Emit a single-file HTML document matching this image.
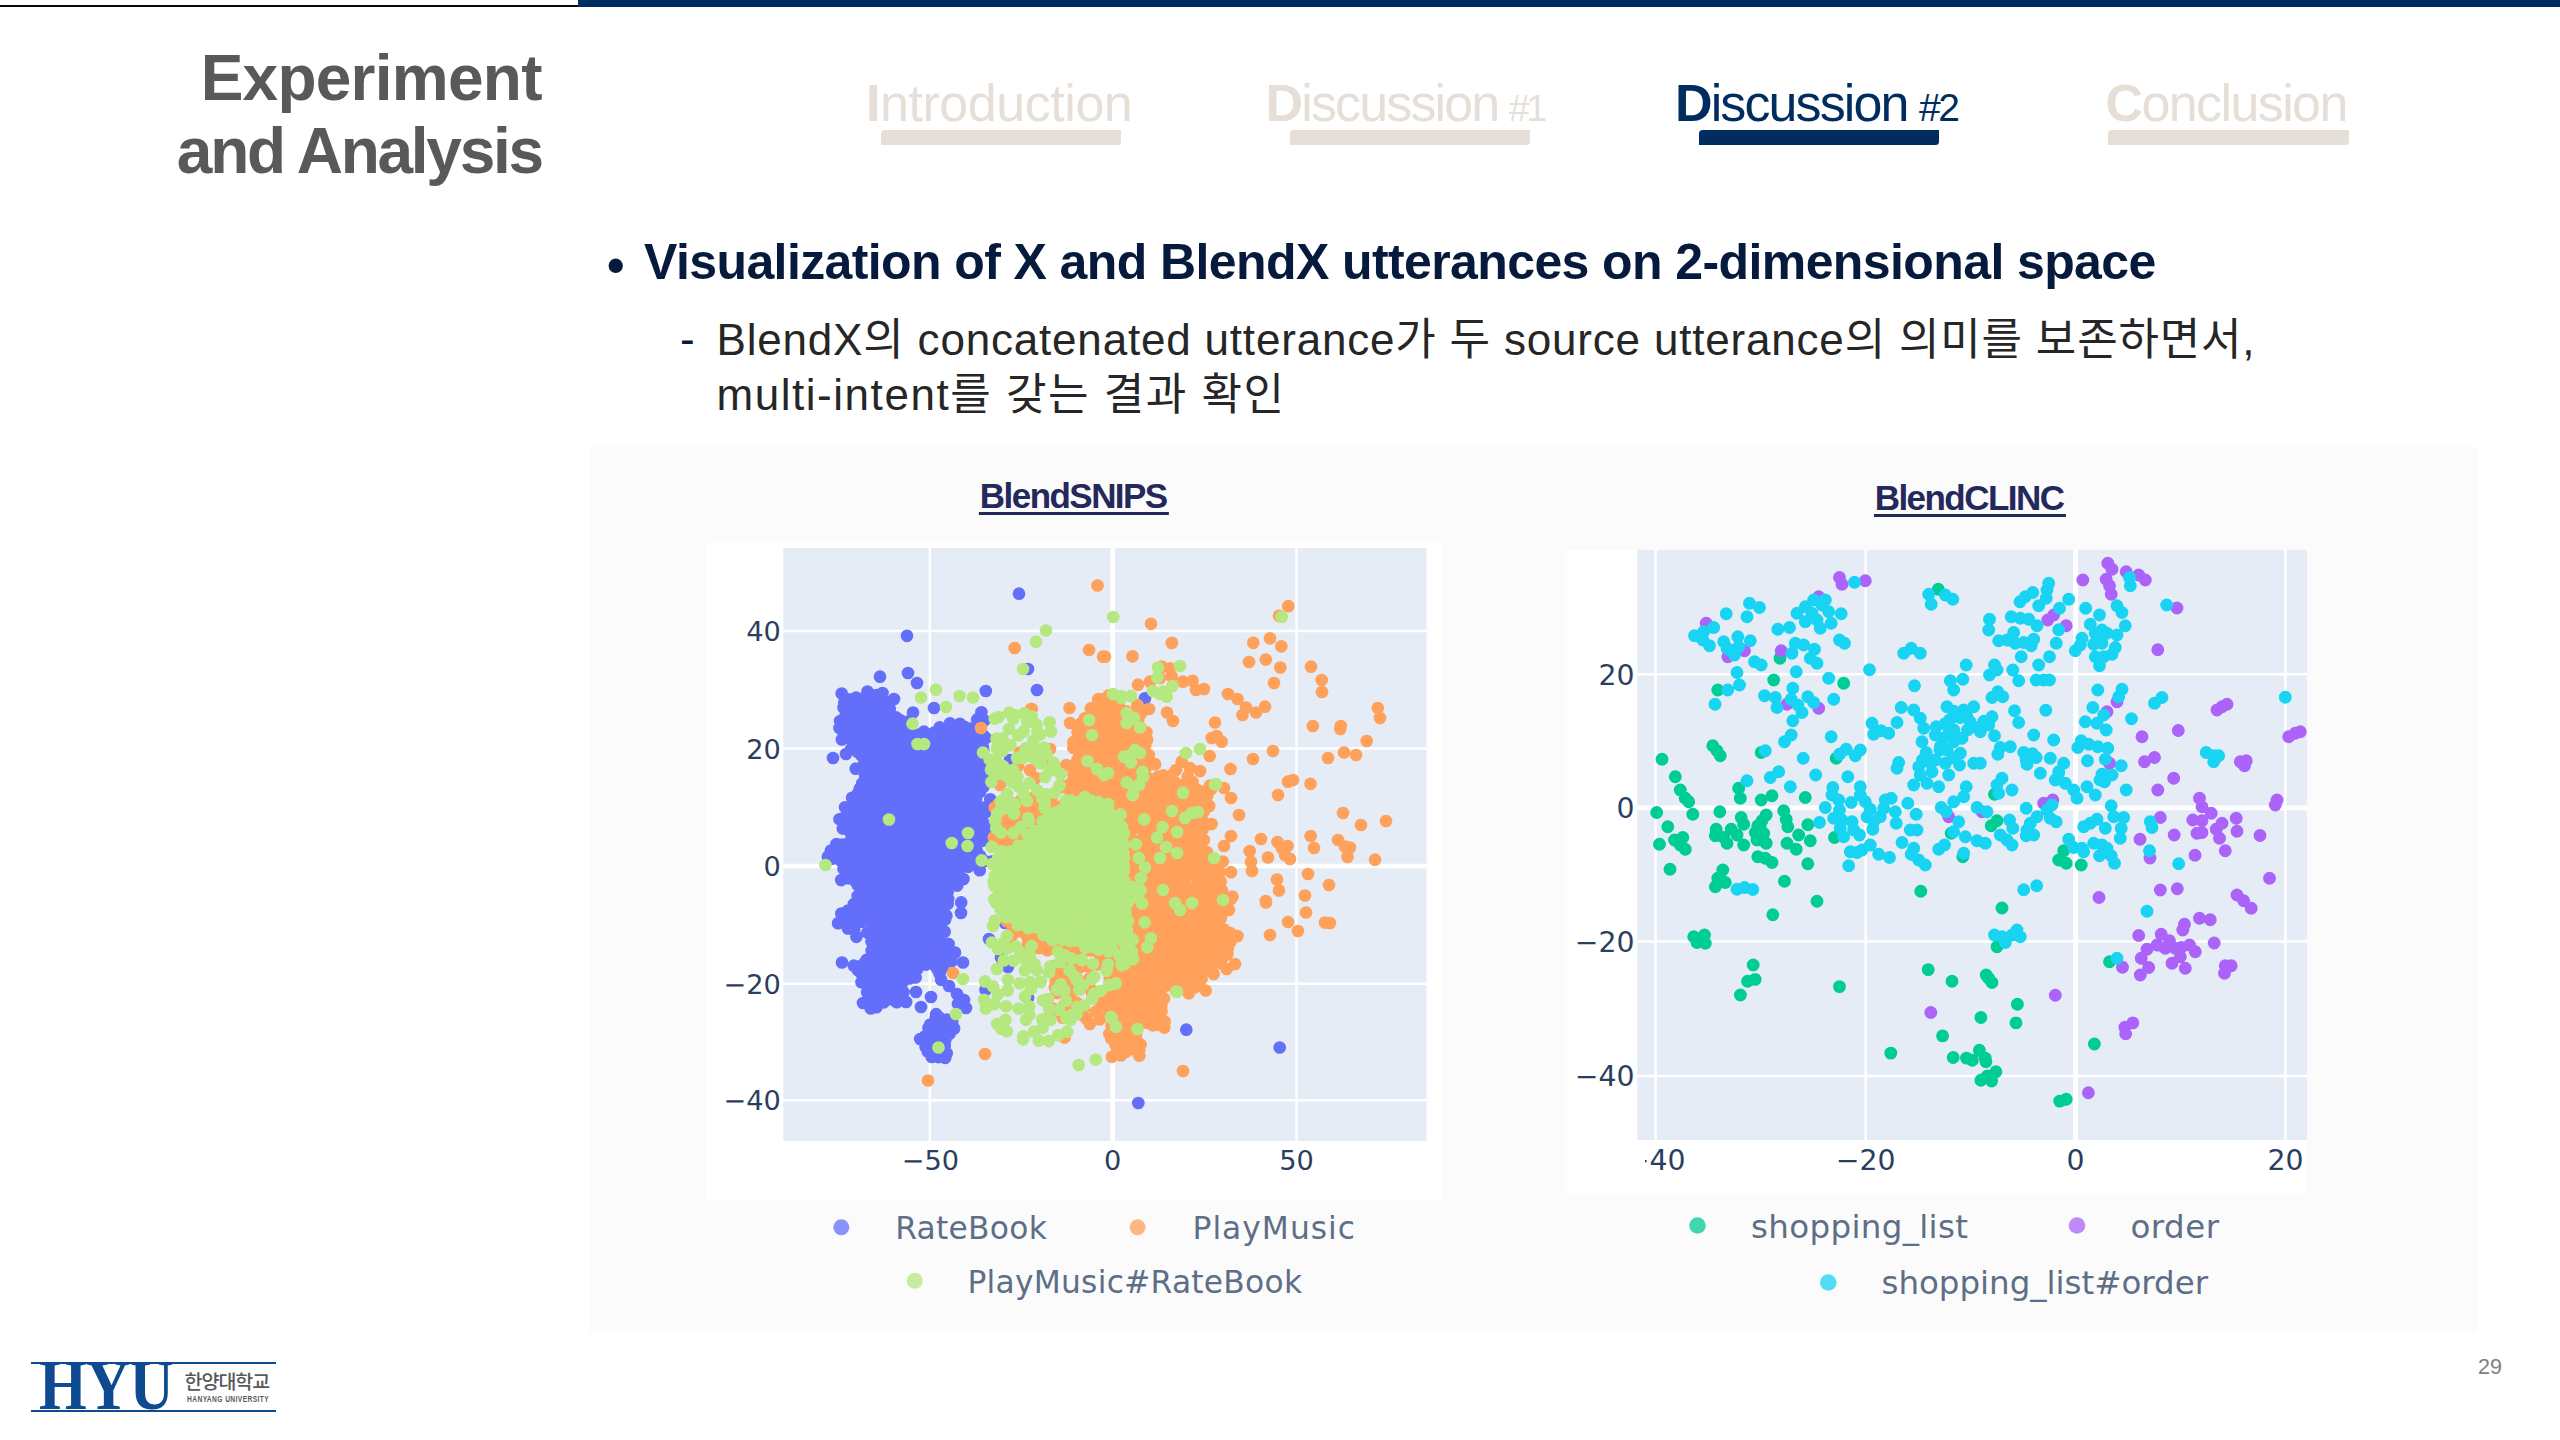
<!DOCTYPE html><html lang="ko"><head><meta charset="utf-8"><title>Experiment and Analysis</title><style>

*{margin:0;padding:0;box-sizing:border-box}
html,body{width:2560px;height:1440px;background:#fff;overflow:hidden}
body{position:relative;font-family:"Liberation Sans","Noto Sans CJK KR",sans-serif}
.abs{position:absolute;white-space:nowrap;line-height:1}
.topbar{left:578px;top:0;width:1982px;height:6.5px;background:#022d61}
.topline{left:0;top:4.8px;width:580px;height:1.8px;background:#000814}
.title{right:2018.3px;top:42.2px;text-align:right;font-weight:bold;font-size:64px;line-height:72.4px;color:#595959;white-space:nowrap}
.title .l1{letter-spacing:-0.75px}
.title .l2{letter-spacing:-2.3px}
.nav{top:76.5px;font-size:52px;color:#e6dfd8}
.nav b{font-weight:bold}
.nav .num{font-size:39px}
.nav.on{color:#002c5f}
.bar{height:14.7px;top:130px;width:240px;background:#e6dfd8;border-radius:3.5px 0 3.5px 0}
.bar.on{background:#002c5f}
.h1{left:607px;top:236.5px;font-weight:bold;font-size:50px;color:#051a3c;letter-spacing:-0.6px}
.h1 .dot{display:inline-block;width:37.1px;position:relative;top:3.5px;letter-spacing:0}
.sub{left:680px;top:311.5px;font-size:44px;color:#262626;letter-spacing:0.81px;line-height:55.6px}
.sub .dash{position:absolute;left:0;top:-0.5px;color:#051a3c;letter-spacing:0}
.sub .txt{margin-left:36.5px;white-space:nowrap}
.sub .t2{letter-spacing:1.54px}
.panel{left:590px;top:447px;width:1888px;height:885px;background:#fbfbfb}
.ct{font-weight:bold;font-size:35px;color:#24285b;letter-spacing:-1.55px;border-bottom:3px solid #24285b;padding:0 2.5px 0 1px;height:36.7px;line-height:35px;transform:translateX(-50%)}
.pg{left:2478px;top:1356.5px;font-size:21.5px;color:#808080}
.logo{left:31px;top:1362px;width:245px;height:50px;border-top:2.2px solid #0e4a8f;border-bottom:2.2px solid #0e4a8f}
.hyu{left:8px;top:-14.2px;font-family:"Liberation Serif",serif;font-weight:bold;font-size:71px;color:#0e4a8f;transform-origin:0 0;transform:scaleX(0.865);letter-spacing:-1px}
.kr{left:153.5px;top:8.5px;font-size:19.5px;color:#58595b;letter-spacing:-1px;font-weight:500}
.en{left:155.5px;top:31.1px;font-size:8.8px;font-weight:bold;color:#58595b;transform-origin:0 0;transform:scaleX(0.755);letter-spacing:0.55px}
svg{position:absolute;left:0;top:0}
svg text{font-family:"DejaVu Sans",sans-serif}

</style></head><body>
<div class="abs topline"></div><div class="abs topbar"></div>
<div class="abs title"><div class="l1">Experiment</div><div class="l2">and Analysis</div></div>
<div class="abs nav" style="left:866px;letter-spacing:-0.45px"><b>I</b>ntroduction</div><div class="abs bar" style="left:881px"></div>
<div class="abs nav" style="left:1265.5px;letter-spacing:-1.85px"><b>D</b>iscussion <span class="num" style="font-size:37.5px;letter-spacing:-3.4px;margin-left:-2.3px">#1</span></div><div class="abs bar" style="left:1290px"></div>
<div class="abs nav on" style="left:1675px;letter-spacing:-1.9px"><b>D</b>iscussion <span class="num" style="margin-left:-1px;letter-spacing:-2.4px">#2</span></div><div class="abs bar on" style="left:1699px"></div>
<div class="abs nav" style="left:2105.5px;letter-spacing:-1.6px"><b>C</b>onclusion</div><div class="abs bar" style="left:2108px;width:241px"></div>
<div class="abs h1"><span class="dot">&bull;</span>Visualization of X and BlendX utterances on 2-dimensional space</div>
<div class="abs sub"><span class="dash">-</span><div class="txt">BlendX의 concatenated utterance가 두 source utterance의 의미를 보존하면서,</div><div class="txt t2">multi-intent를 갖는 결과 확인</div></div>
<div class="abs panel"></div>
<div class="abs ct" style="left:1074px;top:478.2px">BlendSNIPS</div>
<div class="abs ct" style="left:1969.8px;top:480px">BlendCLINC</div>
<svg width="2560" height="1440" viewBox="0 0 2560 1440"><rect x="706" y="543" width="736" height="657" fill="#fff"/><rect x="783.3" y="548" width="643.2" height="593" fill="#e5ecf6"/><defs><clipPath id="cl"><rect x="783.3" y="548" width="643.2" height="593"/></clipPath><clipPath id="cr"><rect x="1637.3" y="550" width="669.7" height="590"/></clipPath></defs><g clip-path="url(#cl)" stroke="#fff" stroke-width="2.4" fill="none"><path d="M929.8 548V1141"/><path d="M1296.5 548V1141"/><path d="M783 631H1427"/><path d="M783 748.5H1427"/><path d="M783 983.8H1427"/><path d="M783 1100.3H1427"/><path d="M1112.7 548V1141" stroke-width="4.6"/><path d="M783 866H1427" stroke-width="4.6"/></g><g clip-path="url(#cl)" fill="none" stroke-linecap="round" stroke-width="12.7"><path stroke="#636efa" d="M867.5 691.5h0M849.3 699.4h0M856.1 697.7h0M860.8 699.1h0M871.9 698.6h0M876.5 695.1h0M844.3 702.5h0M853.9 703.3h0M858.6 701.8h0M868.9 704.9h0M875.1 704.4h0M880.6 702.5h0M885.1 702.1h0M843.5 707.5h0M851.4 710h0M856.2 707.4h0M865.4 710h0M872.2 708.9h0M878.6 707.8h0M883 708h0M889.8 708.8h0M845.5 715.4h0M852.3 715.5h0M861.7 716.3h0M868.7 714.1h0M875.7 717h0M878.6 715h0M886.2 713.2h0M895.9 717.3h0M840.1 721h0M850.6 720.2h0M858.1 721.7h0M860.9 719.2h0M869.6 719.2h0M877.7 722.9h0M885.8 719.2h0M890.8 720.6h0M900.1 720.2h0M977.2 719.4h0M981.7 721.3h0M839.5 728.1h0M844.7 725.2h0M850.4 728.6h0M857.8 725.4h0M868.4 728.3h0M872.2 726.4h0M878.8 727.2h0M889.8 729.8h0M893.2 729.8h0M900.8 724.9h0M908.4 727.4h0M958.3 728.5h0M963.9 726.6h0M969.7 728.6h0M976.2 729.1h0M844 734.4h0M847.6 731.2h0M855.3 731.5h0M863.3 734.1h0M870.9 733.4h0M878.5 734.7h0M884.2 734.3h0M892.2 732.3h0M896.8 734.6h0M906.2 735.9h0M911.4 733.4h0M920.3 734.1h0M923.9 731.7h0M934.2 732.5h0M945.8 734.4h0M954.9 732.5h0M960.8 733.3h0M970 732h0M977.2 731.1h0M983.6 735.8h0M852.5 741.5h0M858.2 741.5h0M864.1 737.1h0M873.3 738.6h0M879.7 738.6h0M885 740.8h0M892.6 741.7h0M903.5 738.5h0M908 742.1h0M914.8 739.2h0M920.2 737.6h0M928.4 741.7h0M935.3 739.6h0M942.9 741.8h0M952.1 740.2h0M959.7 739.8h0M962.2 740.7h0M972.8 740.3h0M976.2 741.7h0M856 744.2h0M865.5 745.4h0M868.5 743.6h0M875 744.3h0M884.3 747.6h0M890.6 745.2h0M897.4 744.8h0M903.9 748h0M912 746.3h0M917.6 744.5h0M925.5 745.3h0M934.7 747.5h0M937.7 746.7h0M946.9 746.1h0M953.5 747.8h0M962.8 748h0M966 743.9h0M975.9 747.8h0M982.7 746.9h0M857.4 751.8h0M865.9 750.3h0M871.1 750.7h0M882.8 752.4h0M887.4 750.4h0M896.8 752.7h0M899.1 751.7h0M908.1 750.5h0M917.6 750.3h0M921.7 751.3h0M928 753.2h0M936.5 750.2h0M942.6 753.3h0M949.1 753h0M959.8 751.7h0M963.1 751.3h0M973.7 749.9h0M977.1 754.1h0M983.3 749.5h0M861.3 755.3h0M869.3 760h0M879.3 756.3h0M885.6 759.4h0M888.7 757.6h0M900.1 756.2h0M907 755.4h0M913.6 759.1h0M916.7 755.6h0M924.8 759h0M932.2 756.6h0M940.6 756.6h0M946.1 756.6h0M955.3 759.8h0M963.2 755.4h0M967.9 760h0M974.4 756.5h0M982 759.9h0M864.2 764.1h0M875.9 765.7h0M879.3 761.7h0M887.5 764.9h0M893.2 763.4h0M902.4 765h0M909.3 761.9h0M914.5 764.1h0M923.7 762.3h0M928.2 762.1h0M936.9 762.9h0M946 763.8h0M952 764.6h0M955.5 763.7h0M966.2 765.9h0M970.5 761.9h0M980.9 764.2h0M984.9 765.6h0M870.9 768.3h0M875.5 771.3h0M881.8 767.9h0M891.3 770.6h0M896.3 770.8h0M903.9 768.9h0M911.1 770.2h0M918.6 771.7h0M925.3 768.4h0M931.5 767.4h0M939.6 771.5h0M948.9 769.7h0M951.6 770.1h0M963 767.8h0M967.4 769.9h0M973.9 770h0M980 769.8h0M865.1 775.5h0M875.1 774.3h0M880 776h0M885.6 774.7h0M896.5 773.6h0M902.8 773.6h0M906.6 776.4h0M916.1 775h0M922.9 775.6h0M929.2 775.6h0M937.1 775.9h0M944.8 777.3h0M948.9 775.8h0M955.6 775.6h0M964.2 776h0M972.2 773.8h0M979.9 776h0M985.5 775.3h0M862.3 783.3h0M872 780.9h0M875.2 782h0M882.5 780.8h0M890.1 779.7h0M896.3 784.2h0M907 780.3h0M910.1 782.1h0M918.3 783.9h0M926.4 783.9h0M935.5 782.6h0M941.5 780.8h0M947.4 781.3h0M953.7 780.4h0M958.7 783.6h0M968.7 784.4h0M975.8 781.1h0M979.7 780.2h0M859.9 788.5h0M867.1 787.9h0M875.7 786.8h0M878.5 788.7h0M888.9 787.6h0M892.1 788.8h0M900.8 788.8h0M910.7 789.2h0M917.5 785.8h0M922 786.7h0M930.9 785.6h0M938.7 786.3h0M944 788.1h0M952.1 786.4h0M956.5 785.8h0M965.9 789.1h0M973.2 789.3h0M979.7 787.8h0M983.5 786.7h0M858.3 792.7h0M860.6 792.9h0M871.2 796.3h0M876.1 796h0M882.7 796.2h0M892 794.9h0M897.8 795.8h0M906.8 793.8h0M912.4 793.2h0M919.6 792h0M924.2 791.8h0M935.1 793.3h0M937.6 791.8h0M947.7 795.1h0M951.8 794.6h0M962.6 795.7h0M965.8 796h0M977.2 792.2h0M980.1 791.8h0M852.1 797.8h0M858.4 801.3h0M865.6 802.5h0M875.3 800.8h0M880.1 799.9h0M886.7 801.2h0M893.1 802h0M903.1 798.5h0M907 801.5h0M913 800.1h0M924 798.6h0M928.7 801.8h0M938.7 799.1h0M944.5 800.2h0M951.2 798.1h0M958.5 801.6h0M963.8 799.7h0M973.5 798.1h0M976.1 798.7h0M847.3 808h0M857.2 804.6h0M864.4 806.6h0M869.8 808.2h0M875.5 805.2h0M885.7 804.5h0M889.7 805.4h0M896.3 805.4h0M907.4 807.4h0M914.3 804.2h0M921.4 807.7h0M925.7 804.7h0M931 804.8h0M937.7 805.7h0M948 806.2h0M953.8 804.4h0M960.5 807.4h0M967.7 806.6h0M974.6 804.9h0M983.9 807.6h0M846.9 813.4h0M851.3 811.9h0M860.1 811.8h0M868.7 810.7h0M874.9 811.7h0M882.9 810h0M885.8 813.7h0M894.6 810.3h0M901.7 813.4h0M909.2 813.9h0M915.1 814.5h0M923.4 811.8h0M927.6 814.7h0M934.3 811.2h0M941.1 811.9h0M951.5 811.6h0M956.1 813.5h0M964.6 810.9h0M971 810.9h0M979.9 813.8h0M985.3 812.6h0M848.3 820.1h0M855.4 817.1h0M861.4 815.9h0M868.9 817.1h0M876.9 818h0M884.8 817.7h0M892.8 816.1h0M900 819.8h0M906.7 819h0M909.6 820.6h0M917.8 816.4h0M924.7 819.7h0M931.3 820.4h0M938.3 820.3h0M948.4 819.2h0M955.4 820.1h0M962 818.5h0M967.7 820.3h0M973.8 817h0M982 816.2h0M845.8 825.3h0M851.9 824h0M857.4 825.1h0M864.1 825h0M875.7 823.6h0M880.6 824.3h0M885.2 825.5h0M893.7 826.2h0M901.4 824.6h0M907.1 824.1h0M915.8 826.1h0M924.1 823.9h0M928.4 824.5h0M937.3 825.9h0M942.6 823.4h0M951.2 825.8h0M958.6 826.4h0M962.2 823.4h0M969.9 826.5h0M979.3 825.9h0M986.1 825h0M850.4 832.6h0M855.3 832.1h0M863.3 829.3h0M869.6 829.6h0M877.7 832.7h0M884.3 828.2h0M892.6 830.9h0M897.7 828.1h0M905.5 832.7h0M911.9 830.1h0M919.7 829h0M923.6 828h0M931.1 832.8h0M941.8 828.6h0M948.1 829.2h0M952.4 828.2h0M962.1 832.3h0M965.9 831.1h0M974.8 832.6h0M984.3 831.6h0M986.6 831.2h0M852.9 836.2h0M857.7 838h0M867.2 837.2h0M872.9 838h0M881.9 836.9h0M885.3 838.9h0M896.1 835.7h0M903.9 838.2h0M907.5 836.2h0M914.9 837.5h0M924.5 838.1h0M927 835.4h0M936.9 838.1h0M941.2 838.2h0M952.3 836.9h0M959.3 838.1h0M966.6 835.8h0M971.8 838h0M979.8 838.7h0M986 837.4h0M836.5 844h0M842.4 844.6h0M849.1 842.5h0M854.4 841.1h0M864 841.9h0M869.5 842.7h0M874.7 845.1h0M882 843.3h0M889.3 843.1h0M898.1 840.2h0M907.5 844.4h0M912.3 841.4h0M918.6 844.8h0M927.6 844.9h0M930.7 841.1h0M937.9 840.4h0M948.9 842.4h0M956 840.4h0M960.5 840.7h0M966.8 842.9h0M977.3 843.5h0M981.7 840.9h0M830.8 850.7h0M840.2 846.4h0M846.5 849.4h0M850.3 846.9h0M861.7 849.6h0M867 850h0M872.6 847.5h0M880.4 847h0M885.7 849.6h0M895.6 847.1h0M903.6 847.3h0M910.3 850.6h0M915.2 846.7h0M924.2 849.3h0M928.7 850.3h0M937.1 846.9h0M941.3 849.7h0M948.7 850.5h0M957.1 847h0M966.2 847.8h0M971.5 847.8h0M976.6 851.1h0M837.5 857.2h0M840 853.7h0M846.8 855.9h0M858.4 852.3h0M862.2 852.9h0M871.7 854.9h0M876.7 856.8h0M884.4 852.9h0M892.4 855.8h0M895.9 852.7h0M905 853.6h0M912.6 855.8h0M919.4 853.2h0M927.2 854.3h0M930.8 856.3h0M941.7 856.6h0M944.6 856.8h0M955.9 853.6h0M962.7 854.1h0M967.4 855.2h0M975.1 854.5h0M980.1 855.8h0M832.8 858.6h0M840.8 860.8h0M845.7 861h0M854.8 859.4h0M857.5 859.6h0M864.2 858.8h0M872 858.4h0M880.9 860.9h0M885.5 862.6h0M892.2 858.9h0M901.5 859.7h0M908 859h0M917.3 859h0M923.7 859.1h0M931.7 860.2h0M938.2 860.9h0M945.7 862.2h0M949.2 860h0M959.9 862.3h0M966.1 862.5h0M971.6 863.1h0M977.2 860.4h0M984.8 861h0M843.5 868.8h0M846.7 867.6h0M856.9 865.7h0M865.1 867.5h0M870.1 866.5h0M875.9 865.9h0M882.1 867.3h0M891.1 865.7h0M898.2 865.1h0M903.2 865.8h0M910.9 865.6h0M919.2 868.6h0M926.4 867.6h0M934.1 866.7h0M940.6 866.7h0M945.7 865.5h0M953.4 867.3h0M960.3 868.7h0M968.3 866.8h0M853.7 871.2h0M858.8 873.8h0M868.2 874.5h0M874.7 874.1h0M880.4 874.3h0M889.6 871.1h0M892 874.3h0M901.5 875.2h0M908.1 874.3h0M916 872.3h0M922.3 874h0M929 873.2h0M935.6 874.4h0M943.5 872.6h0M949.5 871.1h0M957.9 870.9h0M848.4 878.3h0M855.3 881.2h0M863.1 877h0M869.5 879.3h0M878.9 881.3h0M883.7 879.6h0M890.2 879.1h0M896.4 878.1h0M906.6 879h0M914 879.9h0M921.5 880.9h0M924.3 877.9h0M933 877.4h0M940.7 879.5h0M949.5 879.7h0M953.6 880.4h0M857.9 885.2h0M867.1 886.6h0M871.1 886.4h0M881.6 884.3h0M886.3 883h0M894.9 884.3h0M900.9 882.8h0M908.9 887.3h0M916.1 883.8h0M924.7 886.8h0M931.5 886.6h0M937 887.3h0M945.7 883.8h0M951.6 883.7h0M862.2 889.4h0M868 890h0M875.1 890.8h0M885.5 889.4h0M892.1 890.5h0M896.5 893.4h0M903.6 890.9h0M913 889.9h0M919.4 890.4h0M926.5 889.7h0M931.1 891.2h0M938.9 892.5h0M947.8 891.4h0M857.7 896.1h0M867.4 898h0M873.1 898h0M879.2 898.9h0M888.1 895.6h0M896.6 898.3h0M899.2 894.9h0M907 896.2h0M913.2 896.2h0M920.9 898.9h0M930.6 895.9h0M937.4 896.4h0M945.2 898.6h0M948.2 898.9h0M853.8 904.2h0M863.1 905.4h0M871.3 901h0M878.5 902h0M886.3 903.9h0M889.7 901h0M897.6 901.7h0M903.2 904.3h0M910.7 901.9h0M918.7 905.4h0M925 905.2h0M933.3 902.4h0M940.2 904.5h0M947.8 903.7h0M848 910.5h0M853.6 911.7h0M857.5 909.2h0M864.9 909.5h0M875.6 910h0M882.7 910.1h0M886.2 907.5h0M895.9 911h0M899.9 910h0M910.6 907.6h0M917.2 910.5h0M920.9 910.9h0M928.8 909.5h0M938.2 908h0M943.8 909.9h0M843.8 916.8h0M847.9 916.2h0M855.6 914.5h0M863.8 917h0M868.3 914.3h0M877.3 914.6h0M881.9 914.5h0M893.4 917.4h0M900.4 917.7h0M906.6 913.2h0M912.5 914.3h0M921.3 915.3h0M925 914.6h0M930.6 913.8h0M939.7 913.3h0M946.4 915.8h0M845.6 921.9h0M852 919.3h0M861.3 921.7h0M867.8 919.5h0M874.6 919.4h0M880 919.8h0M887.8 922.8h0M895.9 919.2h0M900.9 919h0M907.1 920.4h0M915.1 923.4h0M924.4 921.7h0M931.4 919.8h0M935.7 922.7h0M945.1 919.5h0M848 928.4h0M854.2 929.4h0M872.2 925h0M875.3 927.5h0M885.5 925.2h0M892.6 928.4h0M897.9 925.8h0M904.5 929.3h0M909.9 926.6h0M921 927.9h0M924.3 926.8h0M933.4 926.9h0M937.5 927.9h0M867.4 932.6h0M874.7 933.6h0M879.8 933.8h0M885.3 932.7h0M896.9 933.4h0M900.2 932.2h0M906.7 931.1h0M915.3 933.3h0M921.5 931.9h0M928.5 932.6h0M936.8 935.7h0M871.5 941.5h0M875.2 938h0M885.9 940.3h0M889.6 938.7h0M898.7 939.1h0M904.2 937.4h0M909.7 940.2h0M919 940.1h0M925.8 937.2h0M933.3 942h0M940.6 940.7h0M874.3 947h0M882.9 944.3h0M885.4 943.3h0M892.3 945.7h0M899.9 947.9h0M906.7 944.1h0M917.6 944h0M923.9 944.4h0M929.5 946.3h0M938 945.5h0M871.6 950.6h0M876.9 953.7h0M884.9 952.2h0M891.4 953.6h0M899.9 951h0M906.8 950.1h0M914.5 950.7h0M917.1 954.1h0M928.1 950h0M931 950.1h0M938 950.9h0M948.1 953.6h0M866.5 959.9h0M872.1 960.1h0M881.7 956.7h0M886.3 955.6h0M894.5 957.3h0M900.8 955.3h0M909.3 958h0M916.5 960.2h0M923.6 957.3h0M929.1 960.2h0M935.9 957.3h0M946 955.3h0M862.4 964.9h0M870.1 964.4h0M876.1 964.5h0M882.6 964.4h0M893 963.7h0M898.1 963.7h0M903.2 966h0M912.1 964h0M917.7 962.2h0M925.8 964.6h0M935 965.7h0M939.4 965.5h0M945.1 962.1h0M858 970.3h0M864.9 971h0M872.6 968.6h0M878.5 970.6h0M886 969.5h0M895.1 969.3h0M901.2 969.2h0M907.5 969.5h0M917.1 969.2h0M937.6 969.3h0M942.6 967.8h0M861.6 973.9h0M868 973.9h0M877.3 973.8h0M885.1 975.9h0M892 975.6h0M900.5 977.6h0M903.2 975.1h0M909.5 978.4h0M939.6 973.7h0M868 982.5h0M875.7 981.8h0M878.3 981.7h0M885.2 983.9h0M895 980.4h0M901.8 983.5h0M868 987.9h0M876.6 989h0M885.6 986.2h0M893.5 990.3h0M897 987.3h0M867.2 992.3h0M872.8 993.5h0M878.8 992.5h0M886.7 995.9h0M894.4 992.4h0M903.4 992.2h0M867.7 1000.8h0M878.6 999.4h0M883.8 1002.3h0M893.2 999.8h0M895.9 998.9h0M936.1 1014.2h0M935.8 1018.1h0M939.5 1017.7h0M947.2 1019.7h0M930.2 1024.5h0M936.8 1024h0M945.4 1023.9h0M952.2 1022.1h0M928.5 1027.7h0M932.5 1031.3h0M939.1 1029.9h0M945.2 1029.1h0M954.1 1028.6h0M924.8 1036.4h0M930.3 1037h0M938 1034.3h0M944.1 1036.4h0M949.6 1033.7h0M920.2 1039h0M927 1042.6h0M932.7 1040h0M939.3 1040.1h0M945.4 1039.8h0M925.6 1047h0M930 1045h0M937.1 1046.6h0M944.8 1045.5h0M927.8 1051.4h0M933.1 1051h0M940.7 1053h0M946.7 1053.3h0M931.7 1057h0M938.5 1057.1h0M945.2 1057.8h0M949 986h0M957 994h0M964 1000h0M966 1008h0M958 1004h0M908.1 721.7h0M939.7 727.4h0M950 723.3h0M959.9 723.8h0M981.4 712.3h0M984.3 720.5h0M985.8 738h0M990.6 772.9h0M990.3 799.3h0M992.7 831.5h0M991.6 840.9h0M979.7 870.2h0M963.5 879.1h0M957.2 885.6h0M961.2 902.4h0M944.7 931.7h0M948.6 944.1h0M951.5 961.3h0M941.1 979.7h0M915.6 977.5h0M906.1 1001.9h0M896.8 1002.2h0M876.4 1007.2h0M870.8 1008.5h0M863 1003h0M861.5 982.2h0M853.8 965.7h0M856.4 936.8h0M838.1 923.2h0M841.3 913.5h0M841.2 880.1h0M827.9 856.8h0M842.8 828.4h0M839.5 819.3h0M845.1 807.3h0M855.7 768.7h0M851.2 748.9h0M841.9 739.5h0M841.7 693.6h0M921 1007h0M931 997h0M903 992h0M916 992h0M842 962.5h0M1019 593.7h0M907 635.8h0M908 673h0M917 683h0M880 676.7h0M985.8 691h0M1037 690h0M1028 669h0M934 708h0M913 712.5h0M894 699h0M882.5 693h0M1145 698.3h0M833 758h0M846 754h0M961 913h0M989 939h0M1005 923h0M1001 957.5h0M1008 967h0M985.5 990h0M1028 998h0M963 962.5h0M955 952.5h0M1186.3 1029.7h0M1279.7 1047.5h0M1138.3 1103h0M1010 760h0M1040 815h0M1075 870h0M991.7 861.7h0"/><path stroke="#ffa15a" d="M1101.8 699.4h0M1113 700.1h0M1098.7 706.6h0M1106.5 705.6h0M1114.7 705.3h0M1119 706.5h0M1090.8 708.4h0M1098.9 711.5h0M1101.4 708.3h0M1111 710.3h0M1117 710.7h0M1126.6 711.3h0M1084.9 718.3h0M1091.8 717.3h0M1098.4 715.9h0M1108 717.5h0M1112.7 715h0M1122 714.8h0M1130.3 717h0M1135.8 716.7h0M1080.7 723.7h0M1088.8 722.4h0M1095.2 723.8h0M1102.9 723.6h0M1109 720.9h0M1116.8 723h0M1126.3 720.1h0M1133.2 721h0M1138.2 720.4h0M1079 728.9h0M1084.2 729.9h0M1094.2 730.2h0M1102 726.8h0M1107.5 730.4h0M1112.6 726.1h0M1119.2 726.8h0M1128.4 730.6h0M1135.9 725.9h0M1140.7 728.3h0M1077.6 732.5h0M1081.4 733.4h0M1091.4 734h0M1098.2 736h0M1103.6 732.5h0M1111.3 734.9h0M1119.5 736.7h0M1122.4 736.4h0M1129.9 735.4h0M1137.2 733.8h0M1146.4 732.3h0M1073.3 742.2h0M1079.7 741.5h0M1084.5 741.8h0M1091.8 742.1h0M1101.7 742.4h0M1105.5 738.1h0M1115.1 739.4h0M1118.5 738.9h0M1125.5 739.1h0M1136.1 742.9h0M1140.1 742.7h0M1147.2 739.7h0M1073.2 747.7h0M1081.5 747.3h0M1090.1 748.6h0M1095.6 747.4h0M1101.8 745.2h0M1112.1 747.6h0M1119 745.6h0M1125.6 744.3h0M1129.4 744.3h0M1136.8 748.7h0M1145.3 745h0M1079.2 754.3h0M1084.4 753.9h0M1092.2 750.7h0M1102.4 750.7h0M1108.2 754.6h0M1113.9 754.9h0M1119.9 752.4h0M1129.2 750.8h0M1137.3 750.7h0M1141.2 751.4h0M1148.8 755.1h0M1077.2 760.4h0M1080.7 760.9h0M1090.4 759.4h0M1098.4 758.9h0M1102.7 760.1h0M1112.3 757.3h0M1116.2 756.7h0M1122.1 760.2h0M1129.4 756.5h0M1137 758.5h0M1147 761h0M1079.2 764.7h0M1084.2 767h0M1093.3 766.2h0M1102.1 765h0M1108.8 764.1h0M1112.5 762.4h0M1123 766.7h0M1128.1 766.9h0M1133.2 765.4h0M1141.6 765.3h0M1147.9 764.3h0M1073.9 770.7h0M1084.9 770.7h0M1089.4 769.3h0M1094.7 769.2h0M1104.5 773.1h0M1109.8 770.4h0M1118.5 770.3h0M1126.3 771.2h0M1133.2 771.9h0M1139.1 772.9h0M1145.2 769.8h0M1073.5 775.1h0M1076.8 775.7h0M1087.1 778.9h0M1093.3 779h0M1102.1 776.5h0M1108.2 778.7h0M1112 778.7h0M1121.5 779.3h0M1125.8 775h0M1136 777.5h0M1140.3 775.3h0M1149.9 779.2h0M1158.4 776.5h0M1061 785.2h0M1070.6 783.5h0M1074.9 781.8h0M1084 784.4h0M1092 783.9h0M1097.8 781.7h0M1101.8 784.7h0M1109.4 785h0M1119.7 784.2h0M1125.8 783.3h0M1131.9 782.6h0M1136.4 784.3h0M1144.4 781h0M1152.2 784.1h0M1160.7 783.7h0M1166.5 784h0M1174.3 781.8h0M1182.6 785.1h0M1187.1 783.3h0M1060.2 787.4h0M1066.6 787.1h0M1072 788.2h0M1081.1 788.9h0M1084.8 791.1h0M1095 789.6h0M1101.4 789.6h0M1108.8 788.7h0M1116.1 790.5h0M1122.2 787.7h0M1129.6 791.3h0M1133.3 789.9h0M1141.5 787.3h0M1148.9 789h0M1155.3 789.3h0M1163.4 787.3h0M1169.3 791.3h0M1175.2 789.4h0M1183.4 789.2h0M1188.6 787.5h0M1196.9 789.6h0M1207.2 789.9h0M1024.6 796.7h0M1034.4 797.2h0M1070.5 795.5h0M1073.1 793.6h0M1084.2 793.1h0M1088.3 797h0M1095.6 797.4h0M1104.5 792.9h0M1112.9 793.1h0M1116.4 793.3h0M1125.3 797.3h0M1134 795.7h0M1136.8 796.2h0M1144.8 797.1h0M1150.7 793.3h0M1159.9 796.6h0M1166.5 795.4h0M1173.1 795.3h0M1178.3 794.7h0M1188.8 793.8h0M1193.2 793h0M1200.9 794.2h0M1207.1 795.9h0M1016.1 803.3h0M1021.3 800.1h0M1032 802.1h0M1035.3 798.8h0M1045.7 801.9h0M1051.6 798.9h0M1066.1 801.2h0M1072.8 800.8h0M1077 803.1h0M1084.6 800.6h0M1090.9 802.1h0M1099.2 799.9h0M1105.6 800.6h0M1113.7 799.4h0M1121.2 803.6h0M1126 801.1h0M1133.5 802h0M1143.5 800.1h0M1150.6 801h0M1155.9 799.3h0M1164 801.5h0M1167.7 802.2h0M1175.1 800.2h0M1184.4 802.2h0M1192 800.4h0M1196.9 803.5h0M1202.5 799.1h0M1004.8 809.1h0M1011.6 809.2h0M1021.3 807.6h0M1027.2 809.4h0M1032 807.3h0M1039.7 806.5h0M1047.9 805.8h0M1054.5 807.2h0M1062.3 805.6h0M1067.4 808.5h0M1076.9 807.3h0M1084.6 807.2h0M1088.5 806.7h0M1098.1 807.1h0M1102.1 806.9h0M1109.5 806.5h0M1118.7 805.7h0M1125.9 808h0M1132.2 808.1h0M1136.3 806.5h0M1147.8 807.3h0M1154.8 808.7h0M1158.7 805.2h0M1167.7 807.1h0M1172.3 807.1h0M1182.5 808.9h0M1187.2 806.8h0M1196.9 805.6h0M1200.4 809.3h0M1001.5 813.7h0M1006.6 812.7h0M1013.6 812.6h0M1022.2 814.1h0M1028.4 810.8h0M1037.6 812.2h0M1045.8 815.3h0M1051.4 813.6h0M1055.7 812.4h0M1065.5 813.3h0M1070.6 812.3h0M1078.3 815.3h0M1088.4 811.9h0M1091.7 813.7h0M1097.7 814.7h0M1105.8 814.6h0M1116.4 811h0M1119.6 813.9h0M1129.7 813.5h0M1136.5 811.3h0M1143.3 812.9h0M1147 813h0M1153.5 811.2h0M1162.3 812.9h0M1168.9 814.2h0M1179.4 811.6h0M1184 812.6h0M1189.5 815.1h0M1197.2 813.8h0M1203.9 811.2h0M1004.8 818.8h0M1013.3 820.1h0M1019 818h0M1026.3 821h0M1034.7 816.9h0M1042.8 820.2h0M1047.5 819.2h0M1052.9 820h0M1060.3 820h0M1069.1 817.7h0M1074.6 819.6h0M1082.4 819.9h0M1088.5 820.2h0M1097.1 820.7h0M1102.1 819h0M1110.8 820.6h0M1117.2 821.7h0M1125.3 817.3h0M1129.2 821.5h0M1139.6 818.1h0M1143.9 820.9h0M1150.1 821.3h0M1161.2 820.2h0M1168.3 817.8h0M1172.7 816.9h0M1178.3 817.2h0M1185.6 817.6h0M1193.4 821.4h0M1203.4 821.8h0M1003.8 823.6h0M1008.8 826.8h0M1014.5 827.6h0M1024.2 827h0M1031 824.8h0M1035.6 827.6h0M1044 825.4h0M1052.3 826.6h0M1057.3 823.9h0M1066.2 826.2h0M1072.1 823.6h0M1078.9 825.4h0M1084.5 826.5h0M1094.6 823.3h0M1100.7 825.3h0M1107.4 824h0M1111.5 826.9h0M1122.7 825.6h0M1128.6 823.5h0M1134 827.2h0M1142.9 826.9h0M1149.9 827.6h0M1154 824.9h0M1161.2 824h0M1169.4 823.6h0M1177.4 823.8h0M1184.2 825.1h0M1192.7 822.9h0M1196.5 823.1h0M1006.2 832.4h0M1012.8 832.6h0M1021.2 833.3h0M1025.2 829.3h0M1031.4 831.4h0M1039.5 831.2h0M1048.9 832.5h0M1053.1 829h0M1059.5 832.4h0M1071 830h0M1076.8 831h0M1082 830.5h0M1091.7 831.5h0M1096.2 832.8h0M1103.4 829.8h0M1112.5 831h0M1117.8 831.2h0M1123.2 831.7h0M1129.4 830.8h0M1140.9 829h0M1146.2 833.1h0M1150.7 830.4h0M1160.6 829.9h0M1167.3 832.2h0M1173.2 830.6h0M1179.7 829.6h0M1186.4 832.9h0M1194.7 833h0M1202.7 829.3h0M1004.3 836.9h0M1007.6 839.8h0M1016.7 839.2h0M1024.3 836.4h0M1027.7 837.2h0M1035.5 837.2h0M1042.9 835.8h0M1050.6 839.7h0M1056.7 837.8h0M1062.7 837.2h0M1071 837.9h0M1076.8 839.6h0M1085 838.6h0M1092.4 835.6h0M1097.6 835.7h0M1104.9 835.4h0M1114.1 835.7h0M1120.6 836.2h0M1129.7 835.2h0M1133 839.7h0M1142.5 839.3h0M1146.8 838.5h0M1157.1 836.4h0M1161.4 837.2h0M1170.4 836.5h0M1177.7 835.4h0M1184 836.1h0M1191 837.5h0M1197.4 837h0M1203.9 839.9h0M1003.4 845.4h0M1011.3 844.1h0M1019.3 844.6h0M1027.3 841.6h0M1034.2 844.5h0M1039 845.9h0M1047.1 842.9h0M1055.7 844.3h0M1061.8 843.6h0M1070.7 845.9h0M1078 843.4h0M1081.2 844.8h0M1091.7 845.2h0M1095.3 845h0M1102.6 842.9h0M1112.2 845.3h0M1115.9 841.8h0M1123.1 842.7h0M1129.8 844.6h0M1140.2 842.7h0M1144.5 842.4h0M1150.1 843.2h0M1157.1 845.4h0M1164 845.9h0M1172.3 841.2h0M1181.5 844h0M1186.2 842.5h0M1193.9 846h0M1199.6 845.3h0M1003 850h0M1009.6 850.1h0M1017.6 849.9h0M1025.1 849h0M1029.2 850.6h0M1037.7 850.4h0M1045.4 849.3h0M1052.3 848.7h0M1058.6 851.2h0M1065.9 851.6h0M1070.2 849.6h0M1081.2 852.1h0M1087.5 850.3h0M1095.4 848h0M1099.8 847.2h0M1106.6 851.9h0M1115.7 851h0M1119.7 848.6h0M1127.5 850.3h0M1134.1 850.1h0M1140.5 848.8h0M1147 847.4h0M1157.7 850.6h0M1164.7 850h0M1167.6 849h0M1177.6 847.4h0M1183.4 849.6h0M1189 850.8h0M1198.5 847.7h0M1206.9 852h0M1004.5 857h0M1011.7 855.9h0M1019.8 857.7h0M1029 853.3h0M1033.8 856.8h0M1041.1 855.6h0M1047.7 856.7h0M1052.1 854.8h0M1059.3 857.1h0M1069.2 857.2h0M1074.9 854.3h0M1082.6 856.2h0M1089.9 857.9h0M1098.8 854.4h0M1102.9 854.9h0M1108.9 856h0M1119.7 853.3h0M1124.5 857.9h0M1133.2 855.2h0M1140.6 853.5h0M1143.8 853.8h0M1153.5 856.1h0M1161 855.7h0M1168.1 857.3h0M1175.7 857.2h0M1178 857.5h0M1185.5 857h0M1195.2 857.3h0M1200.6 857.3h0M1207.6 856.6h0M1009.9 859.8h0M1017.3 860.8h0M1021.9 863.1h0M1031.6 860h0M1036.2 863.6h0M1041.9 863h0M1051.8 859.7h0M1058.8 863.6h0M1064.7 859.4h0M1070.7 863.2h0M1080.4 861.9h0M1084.1 861.2h0M1091.9 862.9h0M1099.1 860.6h0M1107.7 861.6h0M1116.1 863.9h0M1121.3 863.5h0M1126.8 859.8h0M1136.3 860h0M1144.5 861.6h0M1150.7 863.7h0M1154.1 862.4h0M1165.1 862.5h0M1170.1 860.7h0M1176.8 863.8h0M1186.1 861.6h0M1189.2 863.8h0M1199.9 861.3h0M1202.6 863.5h0M1211.4 863.4h0M1004.1 867.2h0M1012.9 869.7h0M1020.2 867.1h0M1024.3 867.9h0M1033.2 870.2h0M1039.8 867.4h0M1049.7 868.3h0M1054.1 866.5h0M1061.5 867.5h0M1068.8 866.3h0M1073.8 867h0M1084.4 866.5h0M1089.2 868h0M1094.2 865.6h0M1104.4 867.2h0M1112.1 866.8h0M1117.8 868.6h0M1122.2 867.7h0M1132.7 868.4h0M1138.2 866.5h0M1143.9 869.4h0M1153.6 867h0M1160 868.6h0M1166.8 866.3h0M1174.4 868h0M1178.5 867h0M1189.2 865.4h0M1196.3 869.2h0M1200.5 866.5h0M1207.5 868.9h0M1216.8 868.2h0M1002.2 873.3h0M1008.1 872.4h0M1016.3 875.1h0M1020.7 875.2h0M1029.9 871.4h0M1037.8 875.2h0M1043.7 875h0M1049.5 874h0M1059.1 872.3h0M1064.2 871.8h0M1073.1 874.2h0M1080.2 871.9h0M1084.2 871.8h0M1093.1 872.7h0M1102.2 872.8h0M1108 874.2h0M1116.2 876.1h0M1120.2 873h0M1127.7 875.9h0M1136.7 872.9h0M1144 872.7h0M1147.1 873.2h0M1154.4 872.6h0M1162.7 872.9h0M1171.4 875h0M1179.1 875.3h0M1183.9 873h0M1192.9 874.4h0M1200.1 875.8h0M1206 872.6h0M1213.7 873.1h0M1219.8 872.3h0M1003.6 878.2h0M1010.9 881.4h0M1020.1 881.7h0M1025.1 881.2h0M1035.7 879.1h0M1042.8 879.1h0M1049.5 878.4h0M1056.7 878h0M1062.9 881.2h0M1066.5 882.2h0M1076.9 881h0M1083.4 879.5h0M1087.2 882.1h0M1098 879.8h0M1102.5 880.1h0M1110.4 877.8h0M1118.4 879.5h0M1126.7 882.2h0M1132.5 881.1h0M1136.1 882h0M1146 881.5h0M1150.1 882h0M1157.2 878.1h0M1167.7 878.5h0M1175.5 880.7h0M1178.7 879.5h0M1185 879.5h0M1197 877.9h0M1203.2 881.1h0M1209.5 879.9h0M1213.7 880h0M1220.7 881.8h0M1009.1 886h0M1014.6 883.6h0M1022.1 884.1h0M1027.7 888.1h0M1038.9 887h0M1045.3 885h0M1049.5 886.3h0M1059.4 884.3h0M1066.6 887.5h0M1070.1 884.5h0M1080.1 887.2h0M1087.4 886.1h0M1095.1 886.7h0M1100.4 886h0M1107.4 884.1h0M1113.6 885.6h0M1120.3 885.4h0M1127.4 888.3h0M1132.6 887.1h0M1141.7 886.4h0M1147.7 883.6h0M1158.2 884.9h0M1162.1 883.8h0M1171.7 884.7h0M1178 887.5h0M1183.4 884.7h0M1192.8 887.8h0M1198.5 888.4h0M1204.8 884.2h0M1213.2 883.8h0M1219.8 885.9h0M1007.6 893.2h0M1011.1 891.3h0M1018.6 891.7h0M1024.9 893.1h0M1035.7 894.3h0M1041 890.1h0M1048.1 892.7h0M1052.2 890.2h0M1059.9 891.1h0M1070.5 892.1h0M1075.9 890.9h0M1080.8 890.9h0M1091.5 890.4h0M1094.7 890.6h0M1103 893.3h0M1110.4 891.5h0M1119.5 891.7h0M1123.3 894.4h0M1132.4 891.5h0M1136.7 894h0M1146.5 891.8h0M1151 890.4h0M1160.4 892.3h0M1167.6 891.7h0M1172.3 890.6h0M1180.8 891.2h0M1186.5 890.9h0M1196 893.5h0M1203.4 892.8h0M1206.2 890.4h0M1215.6 893.7h0M1222.1 890.8h0M1007.1 898.9h0M1017.9 897.1h0M1021.5 899.6h0M1030.7 899h0M1035.9 896h0M1041.7 898.7h0M1049.4 897.8h0M1056.7 896.4h0M1065.8 898.2h0M1073.9 896.2h0M1077.7 898.2h0M1086.3 899.2h0M1092.8 895.8h0M1097.6 897.2h0M1107.5 899.5h0M1113 899.9h0M1119 899h0M1127.5 896.4h0M1134.1 896.3h0M1141.5 896.2h0M1149.3 898.4h0M1157.5 896h0M1165.2 899.9h0M1171.3 898.3h0M1177.4 896.2h0M1182 900h0M1190.5 898.3h0M1199 899.6h0M1206.9 897.2h0M1213.3 899.1h0M1218.2 896.4h0M1225.8 899.7h0M1004.8 905.1h0M1014.3 905.5h0M1018.8 903h0M1028 903.2h0M1032 906.5h0M1042 904.3h0M1047.7 903.7h0M1052.4 906.3h0M1059.7 905h0M1070 905.1h0M1073.3 901.7h0M1083.9 902.4h0M1090.9 902.5h0M1098.5 905.4h0M1103.4 903.1h0M1111.9 905.1h0M1118.7 904.1h0M1123.8 906.1h0M1131.3 904.5h0M1138.6 906.5h0M1147.5 905.2h0M1154.2 902.4h0M1160.6 905.8h0M1169 904.9h0M1171.6 902.1h0M1179.6 903h0M1185.4 906.2h0M1194.8 903.9h0M1202 903.4h0M1210.8 905.3h0M1213.4 902.3h0M1220.6 903.8h0M1006.8 910.4h0M1016.9 910.5h0M1022 911.4h0M1031.1 910.1h0M1035.9 907.9h0M1044.6 908.7h0M1052.9 912h0M1057.9 908.6h0M1066.2 912.7h0M1069.5 909.5h0M1079.5 908.3h0M1085.2 912.3h0M1092 908.6h0M1100.4 911.9h0M1107.2 911.4h0M1116.2 908.3h0M1123.5 910.4h0M1126.8 907.9h0M1133.8 910.5h0M1142.4 912.4h0M1150.9 909h0M1153.6 909.8h0M1161.8 909.6h0M1168.7 911.3h0M1175 912.3h0M1185 909.5h0M1188.9 912.7h0M1197.8 911.7h0M1207.1 910.4h0M1212.1 912.6h0M1219.8 911.9h0M1005.9 914.5h0M1012.2 914.7h0M1020 915.9h0M1024.5 917.4h0M1032.3 917.8h0M1042.4 914.7h0M1048.8 916.8h0M1052.1 916h0M1061.9 918.7h0M1066.4 917.3h0M1074.1 916h0M1081.6 915.4h0M1087.8 915.8h0M1095.6 917.8h0M1101.5 916.9h0M1112.6 914.3h0M1118.3 915.6h0M1125.1 917.6h0M1131.4 917.2h0M1138.1 914.7h0M1145.7 918.3h0M1152.8 915.4h0M1160.2 917.5h0M1167.5 918.8h0M1175.7 916h0M1182.3 914.8h0M1189.9 914.1h0M1194.4 917.5h0M1203.6 917.1h0M1206.4 914h0M1213.1 916.4h0M1221 918.1h0M1006.5 921.1h0M1017.9 922.4h0M1022 922.9h0M1028 923.8h0M1037.1 922h0M1046.5 924.5h0M1052.2 923.4h0M1055.7 924h0M1065.7 921.4h0M1074.1 922.5h0M1078.2 921.6h0M1088.4 924.4h0M1090.5 921.9h0M1101.1 923.9h0M1108.5 920.5h0M1112 924.1h0M1121.1 921h0M1126.1 921.5h0M1137.4 921.9h0M1143.5 922.8h0M1150.4 924.5h0M1153.9 923.6h0M1162.1 921.6h0M1167.8 922h0M1179.5 922.3h0M1184.1 923.7h0M1190.6 923.6h0M1199.9 921.4h0M1206.2 922.7h0M1212.3 920.2h0M1218.1 920.5h0M1012.8 927.9h0M1017.7 930.2h0M1028.7 926.8h0M1033.5 926.2h0M1040.7 928.3h0M1047.9 929.1h0M1055.9 927.7h0M1063.9 929.9h0M1066.6 927h0M1073.7 926h0M1080 927.2h0M1088 925.9h0M1095.2 927.5h0M1102.8 927.5h0M1112.2 929.6h0M1115 927.1h0M1124.3 926.9h0M1133.5 926.5h0M1138.8 926.5h0M1146.1 929.3h0M1153.1 927.8h0M1157.1 930.1h0M1168.5 926.3h0M1171.9 927.6h0M1182.3 930h0M1186.9 930.6h0M1194.9 929.3h0M1200.9 926.4h0M1206.9 926.6h0M1216.2 929.1h0M1224.3 929.7h0M1013.9 933.1h0M1023.1 932.1h0M1030.3 935h0M1038.4 933.2h0M1044.1 933.7h0M1050.5 934.1h0M1059.7 936.9h0M1065.2 935.6h0M1074.3 936.8h0M1077.6 934.8h0M1084.7 935.9h0M1094 934.4h0M1101 935.6h0M1109.5 936h0M1114.8 934.5h0M1120.7 933.8h0M1127.9 934.6h0M1133 934.4h0M1140.4 934.2h0M1149 934.6h0M1154.2 932.1h0M1165.4 933.4h0M1169.1 935.7h0M1178.5 932h0M1182.5 933.8h0M1190.4 936.8h0M1198.4 936.8h0M1205.5 936.1h0M1209.7 936.8h0M1219.4 932.3h0M1225.4 935.2h0M1028 938.4h0M1034.9 941.6h0M1038.6 942.5h0M1049.1 940.4h0M1054.4 939.3h0M1061.5 938.3h0M1070.4 940.9h0M1073.8 940.4h0M1080.5 939.4h0M1090.6 940.6h0M1098.3 942.8h0M1101.3 942.4h0M1109.2 938.7h0M1117.9 940.3h0M1122.7 941.6h0M1130.5 942.2h0M1140.6 943h0M1144.9 940.3h0M1153.7 942.6h0M1159.5 942.9h0M1166.3 938.6h0M1173.6 942h0M1179.4 943h0M1188.1 938.5h0M1194.1 942.7h0M1203.4 939.2h0M1206.4 938.4h0M1217.9 939.8h0M1220.2 940.6h0M1045.3 946.5h0M1051.5 944.7h0M1056.1 947.2h0M1066.8 944.2h0M1074.4 945.4h0M1080.8 944.7h0M1088 946.9h0M1090.5 947.1h0M1101.4 946.7h0M1105.6 947.4h0M1112 945.4h0M1121.2 945.9h0M1128.4 945.3h0M1136.8 945.9h0M1142.4 949h0M1147.4 947h0M1155.9 947.7h0M1163 945.7h0M1171.6 946.4h0M1175.9 945.4h0M1184.2 945.2h0M1191 945.9h0M1199.7 948.6h0M1203.7 944.5h0M1209.6 948.4h0M1218.2 946.3h0M1224.3 945.9h0M1047.4 950.2h0M1061.4 954.8h0M1066.4 950.3h0M1076 953.4h0M1090 950.4h0M1098.5 952.9h0M1104.5 954.8h0M1111.2 954.2h0M1117.3 954.2h0M1122.7 954.5h0M1129 950.5h0M1140.8 953.3h0M1143.5 953h0M1151.7 950.9h0M1157.2 953.4h0M1168.5 954h0M1175.3 952.9h0M1180.5 950.6h0M1185.9 955.1h0M1196.5 952.6h0M1202.3 953.7h0M1207.4 952.3h0M1214.1 951h0M1223.3 950.5h0M1064.4 959h0M1071.3 956.4h0M1081 959.5h0M1108.3 960.4h0M1113.6 958h0M1122.9 959.7h0M1128.2 960.6h0M1134.3 959.7h0M1142 957.5h0M1149.9 957.9h0M1158 961.1h0M1163.1 956.7h0M1167.9 958.7h0M1178.3 958h0M1186.2 956.5h0M1192.8 956.6h0M1198.7 958.2h0M1205.5 958.9h0M1214 957.9h0M1220.4 959.5h0M1223.9 956.6h0M1055.1 965.6h0M1060.7 963.9h0M1073.3 962.6h0M1080.4 967h0M1088.9 966.6h0M1097.2 964.5h0M1110.4 963h0M1117.5 966.3h0M1122.3 967h0M1133.4 962.5h0M1136.7 963.6h0M1146.8 964.5h0M1152 964.9h0M1161.8 963.2h0M1166.7 964h0M1171.2 965.7h0M1182.6 963.8h0M1186.6 965h0M1195.3 964.3h0M1200.5 964.6h0M1209.6 965.6h0M1213.4 962.9h0M1220.9 963.2h0M1064.4 970.2h0M1112.2 971.1h0M1119.1 972.7h0M1129.9 969.8h0M1133.9 972.5h0M1142.7 971.1h0M1146.9 970.8h0M1157.6 969.4h0M1162 972.4h0M1170.7 968.5h0M1178 970.8h0M1183.9 973.1h0M1191.3 970.5h0M1195.7 972.8h0M1204.2 969.8h0M1061 974.8h0M1067.1 977.9h0M1076.4 977.5h0M1089 978.9h0M1109.7 978.5h0M1119.2 978.4h0M1124 978.4h0M1131.7 978.8h0M1136.1 976.7h0M1147.2 974.9h0M1151.1 975.1h0M1160.4 976.5h0M1166.8 979.2h0M1173.7 976.7h0M1181.5 975h0M1189.6 978.2h0M1193.8 974.9h0M1201.7 978.8h0M1055.8 981.5h0M1066.8 983.1h0M1070.9 983h0M1078 985h0M1112.4 981.4h0M1122.6 980.8h0M1126.9 982.8h0M1135.3 984.2h0M1140.9 983.6h0M1148.9 983.1h0M1154.3 984.7h0M1162.1 984.7h0M1169.3 985.2h0M1179.3 981.5h0M1185.3 981.3h0M1188.5 981.1h0M1195.9 982.8h0M1054.9 987.2h0M1068.7 990.1h0M1080.4 989.1h0M1089.9 987.8h0M1110.8 986.6h0M1118.2 987.1h0M1124.5 989.9h0M1133.5 989.7h0M1140.1 991h0M1146.6 990.8h0M1150.4 990.7h0M1161 990h0M1188.4 988.5h0M1194.5 987.6h0M1056.8 993.1h0M1070.5 996.2h0M1092.2 993.2h0M1101.2 995.4h0M1111.7 994.8h0M1122.9 993.2h0M1129.5 994.2h0M1137.5 995.7h0M1144.4 993.9h0M1148 994.7h0M1156.8 997h0M1161.4 997.6h0M1070 1003.1h0M1077 1002.9h0M1111.3 1002h0M1117.4 999.7h0M1125.2 1002.1h0M1129.3 1003.1h0M1138.6 1001.6h0M1146.8 1001.3h0M1152.6 999.7h0M1159.6 1003h0M1053.1 1008.6h0M1064.2 1005.6h0M1083.6 1008.9h0M1101 1005.5h0M1112.9 1006.8h0M1119.2 1007.7h0M1130.4 1008.5h0M1136.2 1005.6h0M1139.7 1007.5h0M1147.4 1005.6h0M1157.4 1006.2h0M1161.3 1005.4h0M1074.6 1014.5h0M1082.3 1015h0M1095.9 1011.6h0M1108.6 1013.6h0M1119.5 1014.1h0M1124.8 1014.6h0M1134 1013.7h0M1136.9 1011.2h0M1146.6 1014.1h0M1152.4 1014.6h0M1161.5 1011.2h0M1062.7 1017.7h0M1086.2 1018.6h0M1099.7 1019.5h0M1116.4 1018.8h0M1122.3 1020.9h0M1127.4 1020.4h0M1135.6 1016.9h0M1140.4 1018.6h0M1146.6 1021.2h0M1158.3 1021.6h0M1164.7 1021.6h0M1089.8 1023.9h0M1111.5 1025.7h0M1117.3 1023.2h0M1126.9 1024.8h0M1131.2 1023.2h0M1137.1 1024h0M1147.6 1023h0M1152.9 1025.3h0M1157.1 1024.7h0M1109.3 1033.9h0M1112.8 1029.9h0M1121.5 1031.6h0M1128.1 1030.5h0M1137.2 1029.2h0M1111.2 1038.6h0M1117 1039.3h0M1122.6 1035.1h0M1131.6 1036.2h0M1136 1035.2h0M1115.3 1044.2h0M1121.8 1043.5h0M1130.2 1042.9h0M1133.6 1044.3h0M1117.1 1049.4h0M1125.6 1052.1h0M1133.3 1049.2h0M1120.9 1055.5h0M1070 723h0M1098.2 699.2h0M1108.9 695.3h0M1118.5 699.3h0M1137.1 708.8h0M1140.6 714h0M1155.1 764.2h0M1163.4 775.4h0M1171.7 775.4h0M1192.5 781.9h0M1210.1 785.5h0M1211.3 789h0M1209.2 805.9h0M1211.6 824.1h0M1222.8 861.5h0M1231 872.2h0M1230.9 899h0M1229 909.9h0M1230.2 933h0M1230.7 941.3h0M1227.4 953.9h0M1213.6 974.1h0M1205.7 990.5h0M1188.7 993.3h0M1164 998.6h0M1164.3 1027.6h0M1140.6 1044.4h0M1139.3 1049.4h0M1139.3 1055.7h0M1111.9 1056.8h0M1064.6 1037.6h0M1050.8 1014.1h0M1039.1 948.1h0M1027.9 945.1h0M1010.7 937.7h0M1001.3 906.6h0M996.1 876.4h0M993.8 837.6h0M997.3 825.6h0M994.8 807.5h0M998 804.4h0M1066.3 765.1h0M1031 709h0M997.5 740h0M1020 752.5h0M1050 749h0M1004 767.5h0M1012 779h0M1030 770h0M1043 762h0M1000 785h0M1052 770h0M1036 778h0M1018 766h0M1288.3 606.2h0M1279 615.8h0M1151 623.8h0M1172 642.8h0M1253.3 642.8h0M1270 638.3h0M1281.3 646.3h0M1132.5 656.3h0M1105 656.7h0M1249 662h0M1265.8 659.5h0M1280.3 667.5h0M1311 666.7h0M1321.7 680h0M1322 692h0M1274 683h0M1138 684.7h0M1192.5 680.8h0M1183 681.7h0M1196 690h0M1204 689h0M1161.7 666.7h0M1170 668.3h0M1171.7 676.7h0M1150 681.7h0M1160 678h0M1228 694h0M1237.5 699h0M1246 707.5h0M1242.5 715h0M1256 712.5h0M1265 706.7h0M1137.5 705h0M1149 709h0M1167 712.5h0M1173 721h0M1215 722.5h0M1211.7 738h0M1216.7 736h0M1221.7 741.7h0M1377.8 708h0M1380 718h0M1312.8 726h0M1340.8 726h0M1340.3 729h0M1366.7 741h0M1273 751h0M1344 752.5h0M1356 755h0M1328 758h0M1253 759h0M1209.7 756h0M1181.7 761.7h0M1230.5 769h0M1187.8 776.7h0M1288 781.7h0M1293 780h0M1310.5 783.8h0M1224 788h0M1278 795h0M1231 798h0M1239 815h0M1343 813h0M1361 825h0M1386 821h0M1231 836h0M1224 846h0M1261 839h0M1277.5 842h0M1281.7 848h0M1287.5 846h0M1285 855h0M1290 859h0M1268 857.5h0M1249.7 851h0M1251 861.7h0M1252 871h0M1310.7 836h0M1314 848h0M1338 840h0M1345 846.7h0M1350 847.5h0M1347.5 857h0M1375 859.7h0M1308 874h0M1277 879.5h0M1279 890.5h0M1329 885h0M1305 895.5h0M1265.8 901h0M1232.5 896.7h0M1306 912.5h0M1288 922h0M1298 931h0M1325 922.5h0M1330 923h0M1270 935h0M1237.5 936h0M1228 948h0M1235 964h0M1226.7 969h0M1266 902.5h0M1183 1071h0M1097.5 585.5h0M1014.7 648h0M1089 650h0M1103 656.7h0M1171.7 643h0M981 728h0M1069.5 708h0M1031.7 709h0M953 973h0M985 1054h0M928 1080.5h0M1004.7 911h0M1190 768h0M1200 771h0M1176 770h0"/><path stroke="#b6e880" d="M1084.7 797.2h0M1065.7 800.7h0M1070.2 800.5h0M1078.8 801.9h0M1086.1 800.9h0M1090.8 800.4h0M1098.3 801.9h0M1108.2 804h0M1060.5 810.4h0M1070.9 807h0M1077.5 806.1h0M1083 807.1h0M1089.1 810.6h0M1098.7 810.3h0M1104.5 809.3h0M1108.1 809.1h0M1049.1 816.5h0M1056 812.6h0M1064 816.4h0M1071.9 814.3h0M1078 816.2h0M1086.3 816.5h0M1094.2 814.5h0M1098.6 815h0M1107.7 813.5h0M1115.6 816h0M1120.7 814.4h0M1042.7 821.3h0M1046.9 821.3h0M1052.8 820.1h0M1061.4 818.3h0M1067.1 822.5h0M1076.2 821h0M1083.1 820.6h0M1087.9 820.2h0M1097.1 819h0M1105.4 818.1h0M1110.6 820h0M1115.5 822h0M1046 824.1h0M1053.5 825.9h0M1058.5 824.5h0M1064.3 827.6h0M1073 824.8h0M1081.1 824.7h0M1086.6 828.8h0M1094 826.2h0M1101.7 824.4h0M1106.1 827.6h0M1113.6 824.6h0M1122 826.7h0M1026.9 834h0M1035.5 831h0M1038.7 830.8h0M1045.2 832.8h0M1054 833.9h0M1062.4 830.4h0M1066.1 830.7h0M1073.7 832.9h0M1083.4 834.3h0M1091.8 834.8h0M1098.9 833.7h0M1102.6 832.6h0M1108.5 834.4h0M1118 832h0M1124 833.5h0M1028.9 840.4h0M1035.8 838h0M1045 837.4h0M1051 837.2h0M1059.2 838.5h0M1064.2 838.8h0M1071.4 838.8h0M1077.4 840.4h0M1088 836.5h0M1093.2 838h0M1101.9 837.6h0M1105.5 840.4h0M1115.3 837.9h0M1122 838.8h0M1018.3 845.7h0M1028.6 844.1h0M1035 843.3h0M1040.4 844.3h0M1046.1 845.8h0M1056.4 846.1h0M1063.9 842.1h0M1068.7 842.3h0M1073.7 845h0M1081.9 844.4h0M1087.9 845.4h0M1094.4 846.9h0M1102.1 843.5h0M1110.5 846.6h0M1117.9 845.2h0M1123.8 844.3h0M1001.5 851.3h0M1009.7 851.5h0M1015.6 852.4h0M1023.2 849.8h0M1029.5 849.8h0M1038 853.1h0M1043.8 849.9h0M1050.3 851.5h0M1058.2 849.5h0M1064.3 852.9h0M1071.2 850.9h0M1080 852.2h0M1086.6 848.8h0M1093.7 851.4h0M1101.3 850.8h0M1109.5 852h0M1115.7 851.6h0M1123.3 852.6h0M998.3 858.2h0M1005 855.4h0M1011.8 857.2h0M1019.1 854.8h0M1028.2 856.5h0M1031.1 854.7h0M1042.5 854.4h0M1047.4 857h0M1055.2 857.4h0M1059.5 855.7h0M1067.4 855.2h0M1077 855.6h0M1084.1 858.2h0M1089.9 858.4h0M1097 856.3h0M1103.7 855.9h0M1110.4 855.1h0M1119.2 857.5h0M1124 858h0M992.6 863.8h0M1002.5 862.9h0M1007.1 865.1h0M1017.9 861.2h0M1022.4 863.7h0M1029.5 865h0M1036.8 863.8h0M1046 861.9h0M1049.2 860.9h0M1056.7 862.4h0M1066.1 863.9h0M1070.2 860.5h0M1076.9 863.8h0M1088.2 864.3h0M1094.6 862.8h0M1097.8 863.8h0M1107.7 862.8h0M1116.1 862.1h0M1123.3 864.1h0M999.9 867.6h0M1004.1 867.7h0M1011.2 869.9h0M1019 868.7h0M1028.1 871h0M1031.8 866.4h0M1041.7 869h0M1049.9 869.7h0M1054 866.6h0M1062.8 867.9h0M1068.7 870.8h0M1073.6 868.5h0M1084.1 868.4h0M1091.4 867.8h0M1098.9 867.8h0M1104.2 868h0M1110.1 870.5h0M1118.6 869.2h0M1123.9 867h0M994.9 875.9h0M1000.1 876h0M1010.8 874.9h0M1017.8 874.4h0M1022.7 876.2h0M1031.1 877.3h0M1037.1 876.1h0M1044.4 874.5h0M1053.4 875.2h0M1056 875.2h0M1063.7 876.2h0M1073.1 873.8h0M1080.4 872.5h0M1086.1 873.6h0M1093.3 876.1h0M1097.9 873.5h0M1106.5 876.2h0M1113.3 875.3h0M1121.5 875.6h0M993.6 881.8h0M999.7 881.5h0M1006.5 882.2h0M1011.1 883.3h0M1019.2 883.1h0M1025.7 879.4h0M1033.4 879.2h0M1041.7 878.5h0M1047 882h0M1054.4 879.5h0M1063.3 880.3h0M1070.7 880.3h0M1073.7 880.5h0M1084.1 882.5h0M1088.2 878.7h0M1097.3 881.2h0M1104.6 879.5h0M1110.1 879.1h0M1115.9 882.4h0M1124.2 880.7h0M994.3 885.8h0M1003.3 886.7h0M1010.9 885.3h0M1014.3 887.3h0M1020.7 889.1h0M1031.7 886.6h0M1035 885.8h0M1042.9 889h0M1053.1 885.2h0M1059.7 886h0M1062.6 887.2h0M1070.6 885.8h0M1077.4 888.4h0M1085.6 885.1h0M1092 885h0M1100.3 885.8h0M1108.1 889.1h0M1114.4 885.6h0M1121.4 886h0M999 893.7h0M1006 894.4h0M1014.4 895.2h0M1021.1 893.3h0M1024.8 893h0M1035 895h0M1042.7 892.4h0M1047.1 893.3h0M1053.2 890.7h0M1060 894.8h0M1066.7 893.2h0M1074.1 895.3h0M1080.7 893.5h0M1090 895.2h0M1094.2 893.2h0M1103 892.5h0M1109.4 894h0M1116.4 895.1h0M1123.5 891.5h0M994.2 899.4h0M999.5 896.8h0M1010.8 897.1h0M1015.6 900.8h0M1025.3 897.1h0M1027.8 899.6h0M1038.1 901.2h0M1046.3 901.1h0M1052.4 901.2h0M1057.5 900.5h0M1067.1 898.8h0M1070.3 898h0M1077.8 901.1h0M1086.4 898.1h0M1091.1 900.8h0M1102.3 898h0M1106.7 898.5h0M1115.6 900h0M1119 897.5h0M996 902.7h0M1003.1 905.5h0M1012.3 905.8h0M1018.1 906.9h0M1028.1 907.3h0M1032.8 905.4h0M1041.9 903.5h0M1047.3 905.4h0M1053.7 902.7h0M1063.4 903.2h0M1069 906.9h0M1076 907.4h0M1082.8 904.4h0M1090.7 906.1h0M1095.9 906.3h0M1102.2 903.2h0M1108.9 904.1h0M1116.9 904.8h0M1124.6 905.4h0M1000.6 909.2h0M1006.7 910.8h0M1014.1 912.5h0M1023.6 910.9h0M1030.9 909.3h0M1035.8 912.5h0M1042.6 908.9h0M1049.1 910h0M1055.8 910.8h0M1065.9 912.7h0M1071.1 909.2h0M1076.5 910.1h0M1088 909.2h0M1094.9 911.7h0M1097.9 909h0M1107.6 909h0M1115.6 908.8h0M1120.6 911.8h0M1006.3 917.2h0M1013.3 917.8h0M1018.5 917.3h0M1028.1 917.6h0M1031.9 916.9h0M1040.2 916.1h0M1047.9 915.3h0M1055.6 915.8h0M1059.2 917.2h0M1068.1 917.7h0M1073.2 915.1h0M1084.6 918.3h0M1088.3 915.5h0M1097.8 916.8h0M1102.4 918.3h0M1110 919.2h0M1115.1 915.8h0M1125.5 915.2h0M1017.8 925.2h0M1020.8 922.4h0M1029.6 921.9h0M1038.8 924.2h0M1043.9 925.2h0M1051.6 922h0M1059.5 925.6h0M1065 922.5h0M1074.3 925.7h0M1081 923.3h0M1088 923h0M1094.5 922.3h0M1101 921.7h0M1105.5 921.4h0M1116.5 925h0M1122.2 924.3h0M1128.1 921.5h0M1028 928.1h0M1033.9 927h0M1041.7 930.3h0M1047.9 929.6h0M1052.4 930.6h0M1061.2 930.8h0M1069.5 931h0M1073.2 931.6h0M1083.9 930.6h0M1089.9 927.4h0M1095.7 928.8h0M1105 930.1h0M1111.7 927.9h0M1118 930.8h0M1126.9 930.4h0M1043.6 935h0M1051 937.5h0M1059.2 936.8h0M1065.5 934.2h0M1072.4 937.8h0M1078.3 937.5h0M1085.2 936.2h0M1091.4 937.4h0M1101.5 934.1h0M1105.7 937h0M1113.5 934.9h0M1119.6 936.4h0M1126 934.9h0M1052.4 940.1h0M1063 939.7h0M1070.6 940.9h0M1076.4 940.7h0M1083.6 941.5h0M1089.8 939.6h0M1095.5 939.9h0M1104.5 941.7h0M1111.3 941.2h0M1116.1 939.1h0M1085.4 947.4h0M1091.6 946.6h0M1098.4 949.5h0M1107.3 949.2h0M1112.3 949.9h0M1108.7 951.4h0M998.6 717.1h0M1009.2 712.6h0M1014.9 715.3h0M1024.2 713.4h0M1031.7 716.6h0M994.7 718.7h0M1013.3 719h0M1027.2 722h0M1036.6 724.8h0M1049.6 722.3h0M1009 728.9h0M1023.6 731.5h0M1037.4 731.9h0M1051 731.5h0M996.5 738.7h0M1002.5 738.5h0M1018.2 735.4h0M1033.4 740.6h0M1040 734.6h0M996.9 748.3h0M1010.3 745.1h0M1025.9 748.3h0M1044.2 747.6h0M1002.4 750.9h0M1024.3 754h0M1029.5 756.2h0M1037.9 750.3h0M1046.4 753.6h0M989.7 759.5h0M995.8 759.5h0M1017.1 758h0M1022.6 758.1h0M1034.7 758.3h0M1040.8 763.3h0M1053.7 762.7h0M991 769.8h0M1002.9 766.1h0M1013.1 770h0M1049.7 770.5h0M1055.4 769.8h0M999.6 773.4h0M1005.9 775.5h0M1017.4 777h0M1045.2 777.1h0M1060.7 774.1h0M991.4 781.9h0M1011.4 781.8h0M1018.5 786.6h0M1029.4 783.1h0M1059.5 785.5h0M1007.1 794.2h0M1023.7 794.2h0M1037.4 790.3h0M1046.2 794.4h0M1054.9 792.7h0M1000.8 801.4h0M1010.9 802.8h0M1027 800.8h0M1042.2 798.3h0M1044.7 802.6h0M1001.2 808.5h0M1004.5 808.4h0M1014.7 804.2h0M1044.5 808.1h0M997.3 813.8h0M1014 813.8h0M1028 818.3h0M995.1 820.8h0M1028.8 820.8h0M996.3 828.2h0M1001 832.6h0M1013.5 832.9h0M1021 827.2h0M991.8 846.9h0M994.9 920.5h0M1007.1 936.1h0M991.9 942.5h0M1003.1 942.9h0M1015.8 946.5h0M1031.5 946.1h0M998.2 948.9h0M1007.1 948.4h0M1020.7 952.4h0M1030 956.4h0M1058 951.8h0M1064.6 955.4h0M1003.8 960.4h0M1013.7 960.7h0M1024.5 958.7h0M1034.5 964.3h0M1050.3 966.3h0M1060.3 961.9h0M1071.9 958.7h0M1081.8 960.1h0M1092.9 963.8h0M1108.1 964.5h0M1121.7 965.3h0M996.9 969h0M1024.8 970.4h0M1036.7 970.3h0M1048.7 972.4h0M1069.6 970.2h0M1074.9 976.5h0M1094.2 976.8h0M1106.5 970.7h0M985.1 981.4h0M993.1 986.6h0M1007.8 979.9h0M1019.8 983.3h0M1030.3 982.2h0M1040.7 982.1h0M1060.8 984.3h0M1076.7 980.3h0M1082.8 985.4h0M1092.1 979.1h0M1108.8 985.1h0M1115.7 983.4h0M997.7 994.6h0M1007.8 990.6h0M1025 996.4h0M1031.1 989h0M1057.1 989.4h0M1064.5 990.6h0M1079.3 989.7h0M1094.3 993.8h0M1100.6 990.8h0M984.1 999.8h0M994.4 1004.2h0M1006.1 1006.3h0M1029.2 1006.4h0M1043.1 1000.3h0M1047.9 999.1h0M1066 1000.7h0M1077.3 1006.9h0M1083.7 1005.5h0M1092.1 998.7h0M985.8 1008.5h0M1018.6 1008.6h0M1029.5 1014.7h0M1049.1 1008.5h0M1058.9 1009.7h0M1072.1 1015.2h0M1076.4 1014h0M997.2 1023.9h0M1005.5 1019.8h0M1026.1 1019.8h0M1042.2 1019.5h0M1050.5 1019.8h0M1066.4 1018.2h0M1070.8 1019.5h0M1001.4 1029h0M1006.8 1031.2h0M1023.2 1036.4h0M1034 1031.7h0M1042.6 1028h0M1058.3 1035.2h0M1067.2 1031.7h0M1023.1 1039.3h0M1038.8 1040.7h0M1048.9 1041.1h0M1144.7 922.3h0M1132 951.9h0M1126.9 884.9h0M1144.1 819.3h0M1121.6 864.7h0M1132.8 939.7h0M1123.6 871.1h0M1122.6 893.2h0M1140.6 890.3h0M1135.8 844.3h0M1119.5 906.8h0M1150.9 938.3h0M1122.6 955.1h0M1130.8 889.9h0M1138.2 898.1h0M1147.3 947.3h0M1125.3 946.1h0M1125.3 909.7h0M1119.2 901.6h0M1124.7 964h0M1138.9 857.8h0M1142.1 903.5h0M1113.3 617h0M1281.7 617h0M1158 667.5h0M1180 666h0M1157.5 677.5h0M1153 691h0M1163 691.7h0M1172.5 686h0M1166.7 696.7h0M1113 694h0M1121.7 698h0M1131 696h0M1126.7 713h0M1134 718h0M1126.7 723h0M1140 727.5h0M1186 753h0M1200 749h0M1135 750h0M1124 756.7h0M1140 753h0M1131 762.5h0M1108 773h0M1142.5 771.7h0M1143 777h0M1126.7 782.5h0M1139 785h0M1132.5 795h0M1215 784.5h0M1183 792.5h0M1046 630.5h0M1036 641.7h0M1023 669h0M936 689.7h0M921 697.5h0M959.5 696h0M973 697.5h0M946 707h0M912.5 723.7h0M917.5 744h0M924 744h0M983 752.5h0M1132 719h0M1131 755h0M1134 787h0M1087.5 761h0M1104 775h0M1097 769h0M1089 720h0M1092 735h0M1121 696h0M1160 694h0M1133 795h0M1183 793h0M1216 784h0M1172 811h0M1185 818h0M1192 813h0M1198 812h0M1162.5 827h0M1177 832h0M1157 837.5h0M1166 847h0M1177 853h0M1160 858h0M1214 858h0M1145 867.5h0M1141 878h0M1132.5 887h0M1163 890h0M1223 900h0M1175 903h0M1180 910h0M1192 903h0M1128 902h0M1125 913h0M1123 930h0M1120 957h0M1133 959h0M1177 992h0M1111 1017h0M825.5 865h0M889 819.5h0M963 979h0M1078.7 1065h0M1095.8 1059.5h0M1176 991.7h0M1137.5 1029h0M1116 1026.7h0M1111.7 1018h0M993 926h0M938.5 1047.5h0M956 1014h0M963 979h0M968 833h0M951.7 843h0M967.5 846h0M981.7 860.4h0"/></g><g fill="#2a3f5f" font-size="27.2"><text x="780.8" y="641" text-anchor="end">40</text><text x="780.8" y="758.5" text-anchor="end">20</text><text x="780.8" y="876" text-anchor="end">0</text><text x="780.8" y="993.8" text-anchor="end">−20</text><text x="780.8" y="1110.3" text-anchor="end">−40</text><text x="930.5" y="1169.5" text-anchor="middle">−50</text><text x="1112.7" y="1169.5" text-anchor="middle">0</text><text x="1296.5" y="1169.5" text-anchor="middle">50</text></g><g opacity="0.75"><g fill="#2a3f5f" font-size="31.3"><text x="895.3" y="1239.3" textLength="151.5">RateBook</text><text x="1192.5" y="1239.3" textLength="162.5">PlayMusic</text><text x="967.5" y="1292.6" textLength="334.5">PlayMusic#RateBook</text></g><circle cx="841.3" cy="1227.3" r="8" fill="#636efa"/><circle cx="1137.6" cy="1227.3" r="8" fill="#ffa15a"/><circle cx="914.8" cy="1280.8" r="8" fill="#b6e880"/></g><rect x="1564.7" y="550" width="742.3" height="644.5" fill="#fff"/><rect x="1637.3" y="550" width="669.7" height="590" fill="#e5ecf6"/><g clip-path="url(#cr)" stroke="#fff" stroke-width="2.5" fill="none"><path d="M1655.6 550V1140"/><path d="M1865.7 550V1140"/><path d="M2285.4 550V1140"/><path d="M1637 674.3H2307"/><path d="M1637 941.5H2307"/><path d="M1637 1076H2307"/><path d="M2075.6 550V1140" stroke-width="4.8"/><path d="M1637 807.8H2307" stroke-width="4.8"/></g><g clip-path="url(#cr)" fill="none" stroke-linecap="round" stroke-width="12.9"><path stroke="#00cc96" d="M1938.3 589.2h0M1780 658.3h0M1773.7 680h0M1843.7 683.3h0M1717.8 690h0M1712.8 745.8h0M1717 750.8h0M1720.3 755.8h0M1662 759.2h0M1675.3 776.7h0M1761.2 752.5h0M1836.2 758.3h0M1680.3 790h0M1738.7 788.3h0M1685.3 798.3h0M1688.7 801.7h0M1656.7 812.5h0M1692.8 814.2h0M1667.8 826.7h0M1659.5 844.2h0M1674.5 840h0M1682.8 837.5h0M1680.3 845h0M1685.3 849.2h0M1670 869.2h0M1740.3 798.3h0M1761.2 800h0M1772 795.8h0M1805.3 797.5h0M1719.8 811.7h0M1741.2 817.5h0M1743.7 824.2h0M1716.2 829.2h0M1715.3 835.8h0M1731.2 829.2h0M1723.7 837.5h0M1727 843.3h0M1737 835h0M1743.7 845h0M1766.2 815h0M1762 820.8h0M1757.8 825.8h0M1755.3 832.5h0M1763.7 833.3h0M1757 840h0M1766.2 843.3h0M1760.3 828.3h0M1783.7 810.8h0M1786.2 819.2h0M1787.8 826.7h0M1807.8 824.7h0M1798.7 835h0M1810.3 840.8h0M1787 843.3h0M1796.2 849.2h0M1757.8 856.7h0M1765.3 858.3h0M1772 862.5h0M1807.8 863.8h0M1722.8 870h0M1717.8 878.3h0M1725.3 882.5h0M1715.3 886.7h0M1784.5 881.3h0M1817 901.3h0M1772.8 914.7h0M1920.8 891.2h0M1693.7 936.7h0M1704.5 935h0M1697 942.5h0M1705.3 943.3h0M1700.3 939.2h0M1834.5 837.5h0M1951.2 833.3h0M1994.5 794.2h0M1997 820.8h0M1991.2 825.8h0M1962.8 856.7h0M2063.7 850.8h0M2058.7 860h0M2066.2 863.3h0M2081.2 865h0M2002 908h0M1997 946.7h0M2109.5 961.7h0M1986.2 975h0M1992 982.5h0M1988.7 978.3h0M1753.2 965h0M1755.1 979.4h0M1747.6 981.2h0M1740.4 995h0M1839.5 986.6h0M1928.2 969.6h0M1952 981.2h0M1942.6 1035.9h0M1890.8 1053.1h0M1953.2 1057.5h0M2017.4 1004.3h0M1980.9 1017.5h0M2016 1022.9h0M2094.4 1044h0M1979.4 1050.2h0M1966.5 1058.1h0M1972.3 1060.2h0M1985.2 1058.1h0M1985.9 1061.6h0M1995.9 1071.7h0M1987.3 1076h0M1980.9 1080.3h0M1991.6 1081h0M2059.7 1101.1h0M2066.2 1099.2h0"/><path stroke="#ab63fa" d="M1839.5 577.5h0M1842 584.2h0M1865.3 580.8h0M1818.7 596.7h0M1706.2 623.3h0M1727.8 656.7h0M1744.5 650.8h0M1781.2 650.8h0M1787 704.2h0M1818.7 708.3h0M2082.8 580h0M2107.8 563.3h0M2112 569.2h0M2106.2 579.2h0M2109.5 585.8h0M2111.2 594.2h0M2126.2 571.7h0M2138.7 575h0M2145.3 580h0M2177 608h0M2047.8 620h0M2053.7 615h0M2066.2 625.8h0M2157.8 649.7h0M2117 701.7h0M2107 711.7h0M2217 710h0M2222 706.7h0M2227 704.2h0M2178.3 730.5h0M2142 736.7h0M2144.5 761.7h0M2154.5 757.5h0M2173.7 778.3h0M2240.3 761.7h0M2246.2 760.8h0M2244.5 765.8h0M2288.7 736.7h0M2295.3 733.3h0M2300.3 731.7h0M2109.5 763.3h0M2157.8 790h0M1948.7 816.7h0M2199.5 798.3h0M2202 806.7h0M2211.2 813.3h0M2277 800h0M2275.3 805h0M2160.3 817.5h0M2192.8 820h0M2202 820.8h0M2222 823.3h0M2236.2 818.3h0M2216.2 829.2h0M2197 833.3h0M2202 832.5h0M2237 831.3h0M2219.5 838.3h0M2225.3 850.8h0M2174.2 835h0M2140 839.2h0M2260 835.5h0M2195 855.3h0M2150 858h0M2269.5 878.3h0M2160.3 890h0M2177.3 888.7h0M2099 897.5h0M2237 895h0M2243.7 900.8h0M2251.2 908.3h0M2199.5 918.3h0M2210.3 919.7h0M2184.5 924.2h0M2182.8 930h0M2138.7 935.5h0M2161.2 934.2h0M2169.5 940.8h0M2157 945h0M2147 949.2h0M2165.3 948.3h0M2175.3 948.3h0M2181.2 947.5h0M2189.5 945h0M2195.3 951.7h0M2214.2 943h0M2141.2 958.3h0M2148.7 967.5h0M2140.3 975h0M2172 963.3h0M2180.3 956.7h0M2185.3 968.3h0M2122.5 967.2h0M2225.3 965.8h0M2231.2 965.8h0M2224.5 973.3h0M2055.3 995.3h0M2052.8 800h0M2043.7 803.3h0M1982 811.7h0M1930.8 1012.5h0M2132.8 1022.9h0M2124.9 1027.2h0M2125.7 1033.7h0M2088.4 1092.8h0"/><path stroke="#19d3f3" d="M1854.5 582.2h0M1813.7 600h0M1805.3 606.7h0M1822 605h0M1797 613.3h0M1812 613.3h0M1828.7 611.7h0M1841.2 613.8h0M1805.3 621.7h0M1817 620h0M1831.2 623.3h0M1820.3 628.3h0M1825.3 600h0M1749.5 603.3h0M1759.5 607.5h0M1747 616.7h0M1726.2 613.8h0M1713.7 627.5h0M1703.7 631.7h0M1694.5 635.8h0M1702.8 640h0M1709.5 645.8h0M1723.7 641.7h0M1737.8 636.7h0M1750.3 640.8h0M1730.3 650h0M1738.7 646.7h0M1734.5 655h0M1727 648.3h0M1777.8 629.2h0M1789.5 627.5h0M1795.3 643.3h0M1803.7 645h0M1814.5 649.2h0M1792 653.3h0M1810.3 658.3h0M1817 663.3h0M1839.5 640h0M1844.5 643.3h0M1754.5 661.7h0M1761.2 665h0M1737 672.5h0M1796.2 671.7h0M1792.8 688.3h0M1739.5 685h0M1727.8 690h0M1715 704.2h0M1828.7 678.3h0M1869.5 669.7h0M1764.5 695.8h0M1775.3 697.5h0M1777 707.5h0M1791.2 699.2h0M1797.8 705h0M1802 712.5h0M1807.8 696.7h0M1813.7 702.5h0M1792.8 720.8h0M1833.7 699.2h0M1791.2 735h0M1784.5 741.7h0M1831.2 736.7h0M1765.3 750.8h0M1803.2 758.3h0M1846.2 749.2h0M1839.5 754.2h0M1860.3 750h0M1855.3 755.8h0M1778.7 771.7h0M1770.3 777.5h0M1815.7 775h0M1847.8 776.7h0M1747 780.8h0M1790.3 786.7h0M1832.8 787.5h0M1860.3 786.7h0M1928.7 594.2h0M1931.2 604.2h0M1945.3 595h0M1952.8 599.2h0M1903.7 653.3h0M1911.2 648.3h0M1920.3 653.3h0M1914.5 685.8h0M1950.3 680.8h0M1953.7 690h0M1901.2 707.5h0M1913.7 710h0M1897 722.5h0M1920.3 718.3h0M1923.7 728.3h0M1872 723.3h0M1873.7 734.2h0M1881.2 730.8h0M1888.7 733.3h0M1936.2 726.7h0M1947 706.7h0M1949.5 720h0M1953.7 716.7h0M1922 741.7h0M1926.2 752.5h0M1935.3 735h0M1942.8 738.3h0M1948.7 733.3h0M1940.3 746.7h0M1947 750h0M1953.7 741.7h0M1898.7 762.5h0M1897 768.3h0M1918.7 766.7h0M1935.3 760h0M1945.3 763.3h0M1920.3 775h0M1932 771.7h0M1948.7 775h0M1913.7 785h0M1927 783.3h0M1938.7 786.7h0M2129.5 577.5h0M2130.3 585.8h0M2166.7 605h0M2048.7 583.3h0M2047 590h0M2032.8 592.5h0M2025.3 596.7h0M2020 601.7h0M2046.2 598.3h0M2038.7 605.8h0M2068.7 599.2h0M2059.5 608.3h0M1989.5 619.2h0M1988.7 630h0M2011.2 616.7h0M2020.3 618.3h0M2028.7 619.2h0M2037 625.8h0M2058.7 629.7h0M2013.7 632.5h0M1998.7 640.8h0M2007 640h0M2015.3 643.3h0M2023.7 642.5h0M2033.7 639.2h0M2031.2 645.8h0M2056.2 643.3h0M2021.2 656.7h0M2049.5 656.7h0M2038.7 665h0M2085.7 608.3h0M2099.5 615h0M2117 605.8h0M2122 612.5h0M2125.3 625.8h0M2090.3 624.2h0M2102 630h0M2095.3 633.3h0M2107 633.3h0M2117 635h0M2082 638.3h0M2080.3 645h0M2075.3 650.8h0M2093.7 644.2h0M2102 643.3h0M2115.3 647.5h0M2112 654.2h0M2095.3 656.7h0M2103.7 656.7h0M2099.5 665.8h0M1966.2 665h0M1962.8 679.2h0M1994.5 665h0M1989.5 675h0M1997 670h0M2012.8 670h0M2018.7 680.8h0M2036.2 680h0M2043.7 680h0M2049.5 680h0M2097.8 690h0M2122 689.2h0M2118.7 696.7h0M2162 697.5h0M2154.5 703.3h0M2285.3 697.2h0M1997.8 691.7h0M1992 697.5h0M2002.8 696.7h0M2014.5 710.8h0M2018.7 722.5h0M2045.8 710.3h0M2092.8 707.5h0M2103.7 715h0M2085.3 721.7h0M2097 723.3h0M2106.2 730h0M2131.5 718.7h0M1973.7 706.7h0M1963.7 710h0M1967 716.7h0M1992 716.7h0M1988.7 725h0M1973.7 726.7h0M1980.3 731.7h0M1994.5 735.8h0M1962 738.3h0M2033.7 735h0M2053.7 740h0M2081.2 740.8h0M2077.8 747.5h0M2088.7 744.2h0M2097.8 746.7h0M2107.8 748.3h0M2105.3 759.2h0M2087.5 760.8h0M2000.3 747.5h0M1997.8 754.2h0M2010.3 746.7h0M2023.7 752.5h0M2028.7 758.3h0M2036.2 757.5h0M2027 764.2h0M2050.3 758.3h0M2063.7 763.3h0M1973.7 763.3h0M1980.3 763.3h0M1959.5 765h0M1960.3 753.3h0M2206.2 752.5h0M2213.7 755.8h0M2218.7 755.8h0M2213.7 761.7h0M2121.2 765.8h0M2102 774.2h0M2112 775h0M2104.5 781.7h0M2040.3 773.3h0M2058.7 771.7h0M2055.3 780h0M2065.3 783.3h0M2002 778.3h0M1997 785h0M1966.2 786.7h0M2087 786.7h0M2126.2 790h0M2073.7 790h0M2012 790h0M1825.3 807.5h0M1819.5 822.5h0M1832 795h0M1838.7 800h0M1839.5 810h0M1833.7 818.3h0M1842 820h0M1840.3 828.3h0M1843.7 836.7h0M1851.2 802.5h0M1852 821.7h0M1853.7 830h0M1859.5 835h0M1860.3 795h0M1865.3 801.7h0M1870.3 809.2h0M1867 816.7h0M1873.7 821.7h0M1872.8 829.2h0M1880.3 816.7h0M1885.3 800h0M1891.2 798.3h0M1883.7 808.3h0M1895.3 811.7h0M1896.2 823.3h0M1907.8 803.3h0M1916.2 814.2h0M1910.3 830h0M1917 830h0M1902 842.5h0M1913.7 848.3h0M1911.2 854.2h0M1918.7 860h0M1925.3 865h0M1870.3 845h0M1862 850h0M1850.3 851.7h0M1857 852.5h0M1878.7 854.2h0M1889.5 857.5h0M1848.7 865.8h0M1938.7 849.2h0M1944.5 845h0M1941.2 807.5h0M1946.2 811.7h0M1953.7 801.7h0M1953.7 831.7h0M1737 889.2h0M1744.5 887.5h0M1752.8 889.5h0M1963.7 796.7h0M1977 807.5h0M1987 811.7h0M1998.7 793.3h0M2026.2 808.3h0M1958.7 821.7h0M1965.3 836.7h0M1977 840.8h0M1985.3 843.3h0M2009.5 820h0M2012.8 828.3h0M2000.3 835h0M2007 840h0M2012 845h0M1963.7 853.3h0M2052 805h0M2047 810h0M2037 816.7h0M2030.3 823.3h0M2027 830h0M2026.2 835.8h0M2033.7 835h0M2050.3 818.3h0M2056.2 821.7h0M2077 798.3h0M2095.3 795h0M2111.2 805.8h0M2123.7 817.5h0M2113.7 816.7h0M2097 819.2h0M2090.3 823.3h0M2083.7 826.7h0M2105.3 828.3h0M2121.2 828.3h0M2120.3 838.3h0M2068.7 839.2h0M2073.7 847.5h0M2082 848.3h0M2083.7 851.7h0M2093.7 843.3h0M2102 845h0M2107 848.3h0M2111.2 855.8h0M2099.5 855.8h0M2114.5 863.3h0M2150.3 821.7h0M2152 827.5h0M2149.5 850.8h0M2178.7 863.8h0M2023.7 889.7h0M2036.7 885.8h0M2147 911.2h0M1994.5 935h0M2002 936.7h0M2005.3 942.5h0M2012 935h0M2017 930h0M2020.3 936.7h0M2117 958.3h0M1953.8 711.2h0M1960 717.5h0M1953.8 730h0M1970 721.9h0M1983.8 721.2h0M1955 740h0M1952.5 757.5h0M1940 750h0M1930 762.5h0M1922.5 760h0M1967.5 730h0M1945 723.8h0M2032.5 753.8h0M2026.2 760h0M2058.8 772.5h0M2105 775h0M2100 780h0"/></g><g fill="#2a3f5f" font-size="28.3"><text x="1634.4" y="684.7" text-anchor="end">20</text><text x="1634.4" y="818.2" text-anchor="end">0</text><text x="1634.4" y="951.9" text-anchor="end">−20</text><text x="1634.4" y="1086.4" text-anchor="end">−40</text><clipPath id="cx"><rect x="1645" y="1140" width="662" height="54"/></clipPath><g clip-path="url(#cx)"><text x="1655.6" y="1170.3" text-anchor="middle">−40</text><text x="1865.7" y="1170.3" text-anchor="middle">−20</text><text x="2075.6" y="1170.3" text-anchor="middle">0</text><text x="2285.4" y="1170.3" text-anchor="middle">20</text></g></g><g opacity="0.75"><g fill="#2a3f5f" font-size="32.5"><text x="1751" y="1238.2" textLength="217">shopping_list</text><text x="2130.5" y="1238.2" textLength="88.5">order</text><text x="1881.5" y="1294.4" textLength="326.5">shopping_list#order</text></g><circle cx="1697.5" cy="1225.5" r="8.3" fill="#00cc96"/><circle cx="2077" cy="1225.5" r="8.3" fill="#ab63fa"/><circle cx="1828.3" cy="1282.5" r="8.3" fill="#19d3f3"/></g></svg>
<div class="abs pg">29</div>
<div class="abs logo"><div class="abs hyu">HYU</div><div class="abs kr">한양대학교</div><div class="abs en">HANYANG UNIVERSITY</div></div>
</body></html>
